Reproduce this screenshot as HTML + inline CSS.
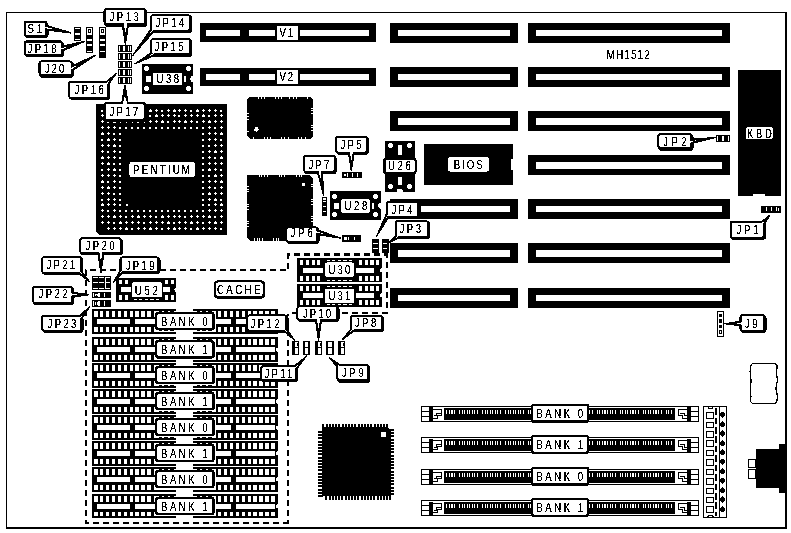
<!DOCTYPE html>
<html lang="en">
<head>
<meta charset="utf-8">
<title>MH1512 motherboard layout</title>
<style>
html,body{margin:0;padding:0;background:#fff;}
body{width:791px;height:533px;overflow:hidden;}
svg{display:block;}
svg text{font-family:"Liberation Sans",sans-serif;fill:#000;}
</style>
</head>
<body>
<svg width="791" height="533" viewBox="0 0 791 533" shape-rendering="crispEdges">
<defs>
<filter id="bw" x="0" y="0" width="791" height="533" filterUnits="userSpaceOnUse" color-interpolation-filters="sRGB">
<feColorMatrix type="matrix" values="0.33 0.34 0.33 0 0  0.33 0.34 0.33 0 0  0.33 0.34 0.33 0 0  0 0 0 1 0"/>
<feComponentTransfer><feFuncR type="discrete" tableValues="0 0 0 0 0 1 1 1"/><feFuncG type="discrete" tableValues="0 0 0 0 0 1 1 1"/><feFuncB type="discrete" tableValues="0 0 0 0 0 1 1 1"/></feComponentTransfer>
</filter>
</defs>
<g filter="url(#bw)">
<rect x="0" y="0" width="791" height="533" fill="#fff"/>
<rect x="6" y="12" width="781" height="1" fill="#000"/>
<rect x="6" y="12" width="1" height="517" fill="#000"/>
<rect x="785" y="12" width="2" height="517" fill="#000"/>
<rect x="6" y="527" width="781" height="2" fill="#000"/>
<rect x="528" y="22.9" width="201.7" height="19.8" fill="#000"/>
<rect x="535.8" y="29.8" width="186.3" height="6.3" fill="#fff"/>
<rect x="390" y="22.9" width="128" height="19.8" fill="#000"/>
<rect x="397.8" y="29.8" width="112.6" height="6.3" fill="#fff"/>
<rect x="528" y="67.1" width="201.7" height="19.8" fill="#000"/>
<rect x="535.8" y="74" width="186.3" height="6.3" fill="#fff"/>
<rect x="390" y="67.1" width="128" height="19.8" fill="#000"/>
<rect x="397.8" y="74" width="112.6" height="6.3" fill="#fff"/>
<rect x="528" y="111.3" width="201.7" height="19.8" fill="#000"/>
<rect x="535.8" y="118.2" width="186.3" height="6.3" fill="#fff"/>
<rect x="390" y="111.3" width="128" height="19.8" fill="#000"/>
<rect x="397.8" y="118.2" width="112.6" height="6.3" fill="#fff"/>
<rect x="528" y="155.3" width="201.7" height="19.8" fill="#000"/>
<rect x="535.8" y="162.2" width="186.3" height="6.3" fill="#fff"/>
<rect x="528" y="199.1" width="201.7" height="19.8" fill="#000"/>
<rect x="535.8" y="206" width="186.3" height="6.3" fill="#fff"/>
<rect x="390" y="199.1" width="128" height="19.8" fill="#000"/>
<rect x="397.8" y="206" width="112.6" height="6.3" fill="#fff"/>
<rect x="528" y="243.3" width="201.7" height="19.8" fill="#000"/>
<rect x="535.8" y="250.2" width="186.3" height="6.3" fill="#fff"/>
<rect x="390" y="243.3" width="128" height="19.8" fill="#000"/>
<rect x="397.8" y="250.2" width="112.6" height="6.3" fill="#fff"/>
<rect x="528" y="288.1" width="201.7" height="19.8" fill="#000"/>
<rect x="535.8" y="295" width="186.3" height="6.3" fill="#fff"/>
<rect x="390" y="288.1" width="128" height="19.8" fill="#000"/>
<rect x="397.8" y="295" width="112.6" height="6.3" fill="#fff"/>
<rect x="200" y="22.8" width="176" height="18.9" fill="#000"/>
<rect x="205.5" y="30" width="34.5" height="6.1" fill="#fff"/>
<rect x="248.8" y="30" width="26" height="6.1" fill="#fff"/>
<rect x="300.2" y="30" width="68.8" height="6.1" fill="#fff"/>
<rect x="276.8" y="25.8" width="21.5" height="14" rx="0.5" fill="#fff" shape-rendering="geometricPrecision"/>
<text transform="translate(279.5 36.8) scale(0.7 1)" font-size="13.7" textLength="19.43" lengthAdjust="spacing">V1</text>
<rect x="200" y="67.8" width="176" height="18.2" fill="#000"/>
<rect x="205.5" y="74.2" width="34.5" height="5.8" fill="#fff"/>
<rect x="248.8" y="74.2" width="26" height="5.8" fill="#fff"/>
<rect x="300.2" y="74.2" width="68.8" height="5.8" fill="#fff"/>
<rect x="276.8" y="70.3" width="21.5" height="13.9" rx="0.5" fill="#fff" shape-rendering="geometricPrecision"/>
<text transform="translate(279.5 80.9) scale(0.7 1)" font-size="13.7" textLength="19.43" lengthAdjust="spacing">V2</text>
<text transform="translate(606.6 58.8) scale(0.8 1)" font-size="12.5" textLength="54" lengthAdjust="spacing">MH1512</text>
<rect x="738.3" y="70" width="42.7" height="125.5" fill="#000"/>
<rect x="753" y="194.3" width="12" height="1.2" fill="#fff"/>
<rect x="745.7" y="127" width="27.4" height="12.3" rx="2" fill="#fff" shape-rendering="geometricPrecision"/>
<text transform="translate(747.3 137.8) scale(0.7 1)" font-size="12.6" textLength="35" lengthAdjust="spacing">KBD</text>
<rect x="424" y="143.8" width="89.4" height="40.8" fill="#000"/>
<rect x="511.2" y="158.9" width="2.2" height="11.5" fill="#fff"/>
<rect x="447.9" y="157.1" width="41.3" height="14.7" rx="2.5" fill="#fff" shape-rendering="geometricPrecision"/>
<text transform="translate(453.8 168.6) scale(0.7 1)" font-size="13.7" textLength="41.14" lengthAdjust="spacing">BIOS</text>
<rect x="385.1" y="141.2" width="30.1" height="50.4" fill="#000"/>
<circle cx="390.5" cy="145.5" r="2.5" fill="#fff" shape-rendering="geometricPrecision"/>
<circle cx="390.5" cy="186.5" r="2.5" fill="#fff" shape-rendering="geometricPrecision"/>
<circle cx="409.5" cy="145.5" r="2.5" fill="#fff" shape-rendering="geometricPrecision"/>
<circle cx="409.5" cy="186.5" r="2.5" fill="#fff" shape-rendering="geometricPrecision"/>
<rect x="397.5" y="145.3" width="4.9" height="9.5" fill="#fff"/>
<rect x="397.5" y="176.6" width="4.9" height="8.8" fill="#fff"/>
<path d="M396.6 192 a3.4 3.4 0 0 1 6.8 0z" fill="#fff" shape-rendering="geometricPrecision"/>
<rect x="383" y="157.7" width="33.9" height="16.6" rx="4" fill="#000" shape-rendering="geometricPrecision"/>
<rect x="385.6" y="159.4" width="29.2" height="13.1" rx="2.5" fill="#fff" shape-rendering="geometricPrecision"/>
<text transform="translate(388 170.4) scale(0.7 1)" font-size="13.7" textLength="32.71" lengthAdjust="spacing">U26</text>
<rect x="142.2" y="63.9" width="51" height="29.7" fill="#000"/>
<circle cx="146.5" cy="68.5" r="2.6" fill="#fff" shape-rendering="geometricPrecision"/>
<circle cx="146.5" cy="88.5" r="2.6" fill="#fff" shape-rendering="geometricPrecision"/>
<circle cx="188.5" cy="68.5" r="2.6" fill="#fff" shape-rendering="geometricPrecision"/>
<circle cx="188.5" cy="88.5" r="2.6" fill="#fff" shape-rendering="geometricPrecision"/>
<rect x="146" y="75.85" width="5.1" height="6.4" fill="#fff"/>
<rect x="184.3" y="75.85" width="1.8" height="6.4" fill="#fff"/>
<path d="M193.5 75.75 a3.3 3.3 0 0 0 0 6.6z" fill="#fff" shape-rendering="geometricPrecision"/>
<rect x="153" y="72.4" width="29.3" height="13.2" rx="2" fill="#fff" shape-rendering="geometricPrecision"/>
<text transform="translate(156.5 82.5) scale(0.7 1)" font-size="13.7" textLength="32.29" lengthAdjust="spacing">U38</text>
<rect x="330.2" y="191.2" width="50.8" height="28.5" fill="#000"/>
<circle cx="334.5" cy="196.5" r="2.6" fill="#fff" shape-rendering="geometricPrecision"/>
<circle cx="334.5" cy="214.5" r="2.6" fill="#fff" shape-rendering="geometricPrecision"/>
<circle cx="375.5" cy="196.5" r="2.6" fill="#fff" shape-rendering="geometricPrecision"/>
<circle cx="375.5" cy="214.5" r="2.6" fill="#fff" shape-rendering="geometricPrecision"/>
<rect x="334" y="202.55" width="5.1" height="6.4" fill="#fff"/>
<rect x="372.1" y="202.55" width="1.8" height="6.4" fill="#fff"/>
<path d="M381.3 202.45 a3.3 3.3 0 0 0 0 6.6z" fill="#fff" shape-rendering="geometricPrecision"/>
<rect x="340.8" y="198.9" width="29.6" height="13.8" rx="2" fill="#fff" shape-rendering="geometricPrecision"/>
<text transform="translate(344.4 209.8) scale(0.7 1)" font-size="13.7" textLength="32.86" lengthAdjust="spacing">U28</text>
<polygon points="250,96.7 310.1,96.7 313.1,99.7 313.1,136 310.1,139 250,139 247,136 247,99.7" fill="#000"/>
<rect x="258" y="96.7" width="1" height="2.2" fill="#fff"/>
<rect x="261.2" y="96.7" width="1" height="2.2" fill="#fff"/>
<rect x="264.3" y="96.7" width="1" height="2.2" fill="#fff"/>
<rect x="275.1" y="96.7" width="1" height="2.2" fill="#fff"/>
<rect x="278.2" y="96.7" width="1" height="2.2" fill="#fff"/>
<rect x="281.3" y="96.7" width="1" height="2.2" fill="#fff"/>
<rect x="289.3" y="96.7" width="1" height="2.2" fill="#fff"/>
<rect x="292.6" y="96.7" width="1" height="2.2" fill="#fff"/>
<rect x="295.7" y="96.7" width="1" height="2.2" fill="#fff"/>
<rect x="306.6" y="96.7" width="1" height="2.2" fill="#fff"/>
<rect x="253.4" y="136.8" width="1" height="2.2" fill="#fff"/>
<rect x="264.3" y="136.8" width="1" height="2.2" fill="#fff"/>
<rect x="267.3" y="136.8" width="1" height="2.2" fill="#fff"/>
<rect x="270.4" y="136.8" width="1" height="2.2" fill="#fff"/>
<rect x="281.3" y="136.8" width="1" height="2.2" fill="#fff"/>
<rect x="284.4" y="136.8" width="1" height="2.2" fill="#fff"/>
<rect x="287.5" y="136.8" width="1" height="2.2" fill="#fff"/>
<rect x="298.3" y="136.8" width="1" height="2.2" fill="#fff"/>
<rect x="301.4" y="136.8" width="1" height="2.2" fill="#fff"/>
<rect x="304.5" y="136.8" width="1" height="2.2" fill="#fff"/>
<rect x="247" y="113.2" width="2.2" height="1" fill="#fff"/>
<rect x="247" y="116.3" width="2.2" height="1" fill="#fff"/>
<rect x="247" y="119.4" width="2.2" height="1" fill="#fff"/>
<rect x="247" y="130.8" width="2.2" height="1" fill="#fff"/>
<rect x="310.9" y="107.5" width="2.2" height="1" fill="#fff"/>
<rect x="310.9" y="110.1" width="2.2" height="1" fill="#fff"/>
<rect x="310.9" y="113.2" width="2.2" height="1" fill="#fff"/>
<rect x="310.9" y="124.6" width="2.2" height="1" fill="#fff"/>
<rect x="310.9" y="127.2" width="2.2" height="1" fill="#fff"/>
<rect x="310.9" y="130.2" width="2.2" height="1" fill="#fff"/>
<circle cx="256.5" cy="129.5" r="2.4" fill="#fff" shape-rendering="geometricPrecision"/>
<polygon points="247.8,174.8 309.3,174.8 313.3,178.8 313.3,237.8 310.3,240.8 249.8,240.8 246.8,237.8 246.8,175.8" fill="#000"/>
<rect x="258.8" y="174.8" width="1" height="2.6" fill="#fff"/>
<rect x="261.4" y="174.8" width="1" height="2.6" fill="#fff"/>
<rect x="264" y="174.8" width="1" height="2.6" fill="#fff"/>
<rect x="266.5" y="174.8" width="1" height="2.6" fill="#fff"/>
<rect x="278.7" y="174.8" width="1" height="2.6" fill="#fff"/>
<rect x="281.3" y="174.8" width="1" height="2.6" fill="#fff"/>
<rect x="283.8" y="174.8" width="1" height="2.6" fill="#fff"/>
<rect x="296.3" y="174.8" width="1" height="2.6" fill="#fff"/>
<rect x="298.9" y="174.8" width="1" height="2.6" fill="#fff"/>
<rect x="301.4" y="174.8" width="1" height="2.6" fill="#fff"/>
<rect x="254.3" y="238.2" width="1" height="2.6" fill="#fff"/>
<rect x="256.8" y="238.2" width="1" height="2.6" fill="#fff"/>
<rect x="259.3" y="238.2" width="1" height="2.6" fill="#fff"/>
<rect x="261.8" y="238.2" width="1" height="2.6" fill="#fff"/>
<rect x="273" y="238.2" width="1" height="2.6" fill="#fff"/>
<rect x="275.6" y="238.2" width="1" height="2.6" fill="#fff"/>
<rect x="278.2" y="238.2" width="1" height="2.6" fill="#fff"/>
<rect x="246.8" y="186" width="2.6" height="1" fill="#fff"/>
<rect x="246.8" y="188.7" width="2.6" height="1" fill="#fff"/>
<rect x="246.8" y="191.3" width="2.6" height="1" fill="#fff"/>
<rect x="246.8" y="203.7" width="2.6" height="1" fill="#fff"/>
<rect x="246.8" y="206.3" width="2.6" height="1" fill="#fff"/>
<rect x="246.8" y="208.8" width="2.6" height="1" fill="#fff"/>
<rect x="246.8" y="220.6" width="2.6" height="1" fill="#fff"/>
<rect x="246.8" y="223.3" width="2.6" height="1" fill="#fff"/>
<rect x="246.8" y="225.8" width="2.6" height="1" fill="#fff"/>
<rect x="310.7" y="183.8" width="2.6" height="1" fill="#fff"/>
<rect x="310.7" y="186.3" width="2.6" height="1" fill="#fff"/>
<rect x="310.7" y="198.8" width="2.6" height="1" fill="#fff"/>
<rect x="310.7" y="201.3" width="2.6" height="1" fill="#fff"/>
<rect x="310.7" y="204" width="2.6" height="1" fill="#fff"/>
<rect x="310.7" y="215.7" width="2.6" height="1" fill="#fff"/>
<rect x="310.7" y="218.3" width="2.6" height="1" fill="#fff"/>
<rect x="310.7" y="220.9" width="2.6" height="1" fill="#fff"/>
<circle cx="303.5" cy="184.5" r="2" fill="#fff" shape-rendering="geometricPrecision"/>
<polygon points="323,427.2 388.1,427.2 391.1,430.2 391.1,494.2 389.6,495.7 323,495.7 321.5,494.2 321.5,428.7" fill="#000"/>
<rect x="322.3" y="423.8" width="2" height="4.4" fill="#000"/>
<rect x="325.3" y="494.7" width="2" height="4.8" fill="#000"/>
<rect x="318.1" y="431" width="4.4" height="2" fill="#000"/>
<rect x="390.1" y="428.9" width="4" height="2" fill="#000"/>
<rect x="325.5" y="423.8" width="2" height="4.4" fill="#000"/>
<rect x="328.5" y="494.7" width="2" height="4.8" fill="#000"/>
<rect x="318.1" y="434.2" width="4.4" height="2" fill="#000"/>
<rect x="390.1" y="432.1" width="4" height="2" fill="#000"/>
<rect x="328.7" y="423.8" width="2" height="4.4" fill="#000"/>
<rect x="331.7" y="494.7" width="2" height="4.8" fill="#000"/>
<rect x="318.1" y="437.4" width="4.4" height="2" fill="#000"/>
<rect x="390.1" y="435.3" width="4" height="2" fill="#000"/>
<rect x="331.9" y="423.8" width="2" height="4.4" fill="#000"/>
<rect x="334.9" y="494.7" width="2" height="4.8" fill="#000"/>
<rect x="318.1" y="440.6" width="4.4" height="2" fill="#000"/>
<rect x="390.1" y="438.5" width="4" height="2" fill="#000"/>
<rect x="335.1" y="423.8" width="2" height="4.4" fill="#000"/>
<rect x="338.1" y="494.7" width="2" height="4.8" fill="#000"/>
<rect x="318.1" y="443.8" width="4.4" height="2" fill="#000"/>
<rect x="390.1" y="441.7" width="4" height="2" fill="#000"/>
<rect x="338.3" y="423.8" width="2" height="4.4" fill="#000"/>
<rect x="341.3" y="494.7" width="2" height="4.8" fill="#000"/>
<rect x="318.1" y="447" width="4.4" height="2" fill="#000"/>
<rect x="390.1" y="444.9" width="4" height="2" fill="#000"/>
<rect x="341.5" y="423.8" width="2" height="4.4" fill="#000"/>
<rect x="344.5" y="494.7" width="2" height="4.8" fill="#000"/>
<rect x="318.1" y="450.2" width="4.4" height="2" fill="#000"/>
<rect x="390.1" y="448.1" width="4" height="2" fill="#000"/>
<rect x="344.7" y="423.8" width="2" height="4.4" fill="#000"/>
<rect x="347.7" y="494.7" width="2" height="4.8" fill="#000"/>
<rect x="318.1" y="453.4" width="4.4" height="2" fill="#000"/>
<rect x="390.1" y="451.3" width="4" height="2" fill="#000"/>
<rect x="347.9" y="423.8" width="2" height="4.4" fill="#000"/>
<rect x="350.9" y="494.7" width="2" height="4.8" fill="#000"/>
<rect x="318.1" y="456.6" width="4.4" height="2" fill="#000"/>
<rect x="390.1" y="454.5" width="4" height="2" fill="#000"/>
<rect x="351.1" y="423.8" width="2" height="4.4" fill="#000"/>
<rect x="354.1" y="494.7" width="2" height="4.8" fill="#000"/>
<rect x="318.1" y="459.8" width="4.4" height="2" fill="#000"/>
<rect x="390.1" y="457.7" width="4" height="2" fill="#000"/>
<rect x="354.3" y="423.8" width="2" height="4.4" fill="#000"/>
<rect x="357.3" y="494.7" width="2" height="4.8" fill="#000"/>
<rect x="318.1" y="463" width="4.4" height="2" fill="#000"/>
<rect x="390.1" y="460.9" width="4" height="2" fill="#000"/>
<rect x="357.5" y="423.8" width="2" height="4.4" fill="#000"/>
<rect x="360.5" y="494.7" width="2" height="4.8" fill="#000"/>
<rect x="318.1" y="466.2" width="4.4" height="2" fill="#000"/>
<rect x="390.1" y="464.1" width="4" height="2" fill="#000"/>
<rect x="360.7" y="423.8" width="2" height="4.4" fill="#000"/>
<rect x="363.7" y="494.7" width="2" height="4.8" fill="#000"/>
<rect x="318.1" y="469.4" width="4.4" height="2" fill="#000"/>
<rect x="390.1" y="467.3" width="4" height="2" fill="#000"/>
<rect x="363.9" y="423.8" width="2" height="4.4" fill="#000"/>
<rect x="366.9" y="494.7" width="2" height="4.8" fill="#000"/>
<rect x="318.1" y="472.6" width="4.4" height="2" fill="#000"/>
<rect x="390.1" y="470.5" width="4" height="2" fill="#000"/>
<rect x="367.1" y="423.8" width="2" height="4.4" fill="#000"/>
<rect x="370.1" y="494.7" width="2" height="4.8" fill="#000"/>
<rect x="318.1" y="475.8" width="4.4" height="2" fill="#000"/>
<rect x="390.1" y="473.7" width="4" height="2" fill="#000"/>
<rect x="370.3" y="423.8" width="2" height="4.4" fill="#000"/>
<rect x="373.3" y="494.7" width="2" height="4.8" fill="#000"/>
<rect x="318.1" y="479" width="4.4" height="2" fill="#000"/>
<rect x="390.1" y="476.9" width="4" height="2" fill="#000"/>
<rect x="373.5" y="423.8" width="2" height="4.4" fill="#000"/>
<rect x="376.5" y="494.7" width="2" height="4.8" fill="#000"/>
<rect x="318.1" y="482.2" width="4.4" height="2" fill="#000"/>
<rect x="390.1" y="480.1" width="4" height="2" fill="#000"/>
<rect x="376.7" y="423.8" width="2" height="4.4" fill="#000"/>
<rect x="379.7" y="494.7" width="2" height="4.8" fill="#000"/>
<rect x="318.1" y="485.4" width="4.4" height="2" fill="#000"/>
<rect x="390.1" y="483.3" width="4" height="2" fill="#000"/>
<rect x="379.9" y="423.8" width="2" height="4.4" fill="#000"/>
<rect x="382.9" y="494.7" width="2" height="4.8" fill="#000"/>
<rect x="318.1" y="488.6" width="4.4" height="2" fill="#000"/>
<rect x="390.1" y="486.5" width="4" height="2" fill="#000"/>
<rect x="383.1" y="423.8" width="2" height="4.4" fill="#000"/>
<rect x="386.1" y="494.7" width="2" height="4.8" fill="#000"/>
<rect x="318.1" y="491.8" width="4.4" height="2" fill="#000"/>
<rect x="390.1" y="489.7" width="4" height="2" fill="#000"/>
<rect x="386.3" y="423.8" width="2" height="4.4" fill="#000"/>
<rect x="389.3" y="494.7" width="2" height="4.8" fill="#000"/>
<rect x="318.1" y="495" width="4.4" height="2" fill="#000"/>
<rect x="390.1" y="492.9" width="4" height="2" fill="#000"/>
<circle cx="383.5" cy="434.5" r="2.9" fill="#fff" shape-rendering="geometricPrecision"/>
<polygon points="96.3,103.8 227.1,103.8 227.1,234.6 99.3,234.6 96.3,231.6" fill="#000"/>
<rect x="101" y="110" width="2" height="2" fill="#fff"/>
<rect x="101" y="115" width="3" height="1" fill="#fff"/>
<rect x="102" y="114" width="1" height="3" fill="#fff"/>
<rect x="101" y="121" width="3" height="1" fill="#fff"/>
<rect x="102" y="120" width="1" height="3" fill="#fff"/>
<rect x="101" y="127" width="3" height="1" fill="#fff"/>
<rect x="102" y="126" width="1" height="3" fill="#fff"/>
<rect x="101" y="133" width="3" height="2" fill="#fff"/>
<rect x="102" y="132" width="1" height="1" fill="#fff"/>
<rect x="101" y="139" width="2" height="2" fill="#fff"/>
<rect x="101" y="145" width="3" height="1" fill="#fff"/>
<rect x="102" y="144" width="1" height="3" fill="#fff"/>
<rect x="101" y="151" width="3" height="1" fill="#fff"/>
<rect x="102" y="150" width="1" height="3" fill="#fff"/>
<rect x="101" y="157" width="3" height="2" fill="#fff"/>
<rect x="102" y="156" width="1" height="1" fill="#fff"/>
<rect x="101" y="163" width="3" height="1" fill="#fff"/>
<rect x="102" y="162" width="1" height="3" fill="#fff"/>
<rect x="101" y="169" width="2" height="2" fill="#fff"/>
<rect x="101" y="175" width="3" height="1" fill="#fff"/>
<rect x="102" y="174" width="1" height="3" fill="#fff"/>
<rect x="101" y="181" width="3" height="2" fill="#fff"/>
<rect x="102" y="180" width="1" height="1" fill="#fff"/>
<rect x="101" y="187" width="3" height="1" fill="#fff"/>
<rect x="102" y="186" width="1" height="3" fill="#fff"/>
<rect x="101" y="193" width="3" height="1" fill="#fff"/>
<rect x="102" y="192" width="1" height="3" fill="#fff"/>
<rect x="101" y="199" width="2" height="2" fill="#fff"/>
<rect x="101" y="204" width="3" height="2" fill="#fff"/>
<rect x="102" y="203" width="1" height="1" fill="#fff"/>
<rect x="101" y="210" width="3" height="1" fill="#fff"/>
<rect x="102" y="209" width="1" height="3" fill="#fff"/>
<rect x="101" y="216" width="3" height="1" fill="#fff"/>
<rect x="102" y="215" width="1" height="3" fill="#fff"/>
<rect x="101" y="222" width="3" height="1" fill="#fff"/>
<rect x="102" y="221" width="1" height="3" fill="#fff"/>
<rect x="107" y="110" width="3" height="1" fill="#fff"/>
<rect x="108" y="109" width="1" height="3" fill="#fff"/>
<rect x="107" y="115" width="3" height="2" fill="#fff"/>
<rect x="108" y="114" width="1" height="1" fill="#fff"/>
<rect x="107" y="121" width="2" height="2" fill="#fff"/>
<rect x="107" y="127" width="3" height="1" fill="#fff"/>
<rect x="108" y="126" width="1" height="3" fill="#fff"/>
<rect x="107" y="133" width="3" height="1" fill="#fff"/>
<rect x="108" y="132" width="1" height="3" fill="#fff"/>
<rect x="107" y="139" width="3" height="2" fill="#fff"/>
<rect x="108" y="138" width="1" height="1" fill="#fff"/>
<rect x="107" y="145" width="3" height="1" fill="#fff"/>
<rect x="108" y="144" width="1" height="3" fill="#fff"/>
<rect x="107" y="151" width="2" height="2" fill="#fff"/>
<rect x="107" y="157" width="3" height="1" fill="#fff"/>
<rect x="108" y="156" width="1" height="3" fill="#fff"/>
<rect x="107" y="163" width="3" height="2" fill="#fff"/>
<rect x="108" y="162" width="1" height="1" fill="#fff"/>
<rect x="107" y="169" width="3" height="1" fill="#fff"/>
<rect x="108" y="168" width="1" height="3" fill="#fff"/>
<rect x="107" y="175" width="3" height="1" fill="#fff"/>
<rect x="108" y="174" width="1" height="3" fill="#fff"/>
<rect x="107" y="181" width="2" height="2" fill="#fff"/>
<rect x="107" y="187" width="3" height="2" fill="#fff"/>
<rect x="108" y="186" width="1" height="1" fill="#fff"/>
<rect x="107" y="193" width="3" height="1" fill="#fff"/>
<rect x="108" y="192" width="1" height="3" fill="#fff"/>
<rect x="107" y="199" width="3" height="1" fill="#fff"/>
<rect x="108" y="198" width="1" height="3" fill="#fff"/>
<rect x="107" y="204" width="3" height="1" fill="#fff"/>
<rect x="108" y="203" width="1" height="3" fill="#fff"/>
<rect x="107" y="210" width="2" height="2" fill="#fff"/>
<rect x="107" y="216" width="3" height="1" fill="#fff"/>
<rect x="108" y="215" width="1" height="3" fill="#fff"/>
<rect x="107" y="222" width="3" height="1" fill="#fff"/>
<rect x="108" y="221" width="1" height="3" fill="#fff"/>
<rect x="107" y="228" width="3" height="1" fill="#fff"/>
<rect x="108" y="227" width="1" height="3" fill="#fff"/>
<rect x="113" y="110" width="3" height="1" fill="#fff"/>
<rect x="114" y="109" width="1" height="3" fill="#fff"/>
<rect x="113" y="115" width="3" height="1" fill="#fff"/>
<rect x="114" y="114" width="1" height="3" fill="#fff"/>
<rect x="113" y="121" width="3" height="2" fill="#fff"/>
<rect x="114" y="120" width="1" height="1" fill="#fff"/>
<rect x="113" y="127" width="3" height="1" fill="#fff"/>
<rect x="114" y="126" width="1" height="3" fill="#fff"/>
<rect x="113" y="133" width="2" height="2" fill="#fff"/>
<rect x="113" y="139" width="3" height="1" fill="#fff"/>
<rect x="114" y="138" width="1" height="3" fill="#fff"/>
<rect x="113" y="145" width="3" height="2" fill="#fff"/>
<rect x="114" y="144" width="1" height="1" fill="#fff"/>
<rect x="113" y="151" width="3" height="1" fill="#fff"/>
<rect x="114" y="150" width="1" height="3" fill="#fff"/>
<rect x="113" y="157" width="3" height="1" fill="#fff"/>
<rect x="114" y="156" width="1" height="3" fill="#fff"/>
<rect x="113" y="163" width="2" height="2" fill="#fff"/>
<rect x="113" y="169" width="3" height="2" fill="#fff"/>
<rect x="114" y="168" width="1" height="1" fill="#fff"/>
<rect x="113" y="175" width="3" height="1" fill="#fff"/>
<rect x="114" y="174" width="1" height="3" fill="#fff"/>
<rect x="113" y="181" width="3" height="1" fill="#fff"/>
<rect x="114" y="180" width="1" height="3" fill="#fff"/>
<rect x="113" y="187" width="3" height="1" fill="#fff"/>
<rect x="114" y="186" width="1" height="3" fill="#fff"/>
<rect x="113" y="193" width="2" height="2" fill="#fff"/>
<rect x="113" y="199" width="3" height="1" fill="#fff"/>
<rect x="114" y="198" width="1" height="3" fill="#fff"/>
<rect x="113" y="204" width="3" height="1" fill="#fff"/>
<rect x="114" y="203" width="1" height="3" fill="#fff"/>
<rect x="113" y="210" width="3" height="1" fill="#fff"/>
<rect x="114" y="209" width="1" height="3" fill="#fff"/>
<rect x="113" y="216" width="3" height="2" fill="#fff"/>
<rect x="114" y="215" width="1" height="1" fill="#fff"/>
<rect x="113" y="222" width="2" height="2" fill="#fff"/>
<rect x="113" y="228" width="3" height="1" fill="#fff"/>
<rect x="114" y="227" width="1" height="3" fill="#fff"/>
<rect x="119" y="110" width="3" height="1" fill="#fff"/>
<rect x="120" y="109" width="1" height="3" fill="#fff"/>
<rect x="119" y="115" width="2" height="2" fill="#fff"/>
<rect x="119" y="121" width="3" height="1" fill="#fff"/>
<rect x="120" y="120" width="1" height="3" fill="#fff"/>
<rect x="119" y="127" width="2" height="2" fill="#fff"/>
<rect x="119" y="133" width="2" height="2" fill="#fff"/>
<rect x="119" y="139" width="2" height="2" fill="#fff"/>
<rect x="119" y="145" width="2" height="2" fill="#fff"/>
<rect x="119" y="151" width="2" height="2" fill="#fff"/>
<rect x="119" y="157" width="2" height="2" fill="#fff"/>
<rect x="119" y="163" width="2" height="2" fill="#fff"/>
<rect x="119" y="169" width="2" height="2" fill="#fff"/>
<rect x="119" y="175" width="2" height="2" fill="#fff"/>
<rect x="119" y="181" width="2" height="2" fill="#fff"/>
<rect x="119" y="187" width="2" height="2" fill="#fff"/>
<rect x="119" y="193" width="2" height="2" fill="#fff"/>
<rect x="119" y="199" width="2" height="2" fill="#fff"/>
<rect x="119" y="204" width="2" height="2" fill="#fff"/>
<rect x="119" y="210" width="2" height="2" fill="#fff"/>
<rect x="119" y="216" width="3" height="1" fill="#fff"/>
<rect x="120" y="215" width="1" height="3" fill="#fff"/>
<rect x="119" y="222" width="3" height="2" fill="#fff"/>
<rect x="120" y="221" width="1" height="1" fill="#fff"/>
<rect x="119" y="228" width="3" height="1" fill="#fff"/>
<rect x="120" y="227" width="1" height="3" fill="#fff"/>
<rect x="125" y="110" width="3" height="2" fill="#fff"/>
<rect x="126" y="109" width="1" height="1" fill="#fff"/>
<rect x="125" y="115" width="3" height="1" fill="#fff"/>
<rect x="126" y="114" width="1" height="3" fill="#fff"/>
<rect x="125" y="121" width="3" height="1" fill="#fff"/>
<rect x="126" y="120" width="1" height="3" fill="#fff"/>
<rect x="125" y="127" width="2" height="2" fill="#fff"/>
<rect x="125" y="210" width="2" height="2" fill="#fff"/>
<rect x="125" y="216" width="2" height="2" fill="#fff"/>
<rect x="125" y="222" width="3" height="1" fill="#fff"/>
<rect x="126" y="221" width="1" height="3" fill="#fff"/>
<rect x="125" y="228" width="3" height="2" fill="#fff"/>
<rect x="126" y="227" width="1" height="1" fill="#fff"/>
<rect x="131" y="110" width="2" height="2" fill="#fff"/>
<rect x="131" y="115" width="3" height="2" fill="#fff"/>
<rect x="132" y="114" width="1" height="1" fill="#fff"/>
<rect x="131" y="121" width="3" height="1" fill="#fff"/>
<rect x="132" y="120" width="1" height="3" fill="#fff"/>
<rect x="131" y="127" width="2" height="2" fill="#fff"/>
<rect x="131" y="210" width="2" height="2" fill="#fff"/>
<rect x="131" y="216" width="3" height="1" fill="#fff"/>
<rect x="132" y="215" width="1" height="3" fill="#fff"/>
<rect x="131" y="222" width="3" height="1" fill="#fff"/>
<rect x="132" y="221" width="1" height="3" fill="#fff"/>
<rect x="131" y="228" width="2" height="2" fill="#fff"/>
<rect x="137" y="110" width="3" height="1" fill="#fff"/>
<rect x="138" y="109" width="1" height="3" fill="#fff"/>
<rect x="137" y="115" width="3" height="1" fill="#fff"/>
<rect x="138" y="114" width="1" height="3" fill="#fff"/>
<rect x="137" y="121" width="2" height="2" fill="#fff"/>
<rect x="137" y="127" width="2" height="2" fill="#fff"/>
<rect x="137" y="210" width="2" height="2" fill="#fff"/>
<rect x="137" y="216" width="3" height="2" fill="#fff"/>
<rect x="138" y="215" width="1" height="1" fill="#fff"/>
<rect x="137" y="222" width="3" height="1" fill="#fff"/>
<rect x="138" y="221" width="1" height="3" fill="#fff"/>
<rect x="137" y="228" width="3" height="1" fill="#fff"/>
<rect x="138" y="227" width="1" height="3" fill="#fff"/>
<rect x="143" y="110" width="3" height="1" fill="#fff"/>
<rect x="144" y="109" width="1" height="3" fill="#fff"/>
<rect x="143" y="115" width="3" height="1" fill="#fff"/>
<rect x="144" y="114" width="1" height="3" fill="#fff"/>
<rect x="143" y="121" width="3" height="1" fill="#fff"/>
<rect x="144" y="120" width="1" height="3" fill="#fff"/>
<rect x="143" y="127" width="2" height="2" fill="#fff"/>
<rect x="143" y="210" width="2" height="2" fill="#fff"/>
<rect x="143" y="216" width="3" height="1" fill="#fff"/>
<rect x="144" y="215" width="1" height="3" fill="#fff"/>
<rect x="143" y="222" width="2" height="2" fill="#fff"/>
<rect x="143" y="228" width="3" height="1" fill="#fff"/>
<rect x="144" y="227" width="1" height="3" fill="#fff"/>
<rect x="149" y="110" width="3" height="2" fill="#fff"/>
<rect x="150" y="109" width="1" height="1" fill="#fff"/>
<rect x="149" y="115" width="2" height="2" fill="#fff"/>
<rect x="149" y="121" width="3" height="1" fill="#fff"/>
<rect x="150" y="120" width="1" height="3" fill="#fff"/>
<rect x="149" y="127" width="2" height="2" fill="#fff"/>
<rect x="149" y="210" width="2" height="2" fill="#fff"/>
<rect x="149" y="216" width="3" height="1" fill="#fff"/>
<rect x="150" y="215" width="1" height="3" fill="#fff"/>
<rect x="149" y="222" width="3" height="1" fill="#fff"/>
<rect x="150" y="221" width="1" height="3" fill="#fff"/>
<rect x="149" y="228" width="3" height="2" fill="#fff"/>
<rect x="150" y="227" width="1" height="1" fill="#fff"/>
<rect x="155" y="110" width="3" height="1" fill="#fff"/>
<rect x="156" y="109" width="1" height="3" fill="#fff"/>
<rect x="155" y="115" width="3" height="2" fill="#fff"/>
<rect x="156" y="114" width="1" height="1" fill="#fff"/>
<rect x="155" y="121" width="3" height="1" fill="#fff"/>
<rect x="156" y="120" width="1" height="3" fill="#fff"/>
<rect x="155" y="127" width="2" height="2" fill="#fff"/>
<rect x="155" y="210" width="2" height="2" fill="#fff"/>
<rect x="155" y="216" width="2" height="2" fill="#fff"/>
<rect x="155" y="222" width="3" height="1" fill="#fff"/>
<rect x="156" y="221" width="1" height="3" fill="#fff"/>
<rect x="155" y="228" width="3" height="1" fill="#fff"/>
<rect x="156" y="227" width="1" height="3" fill="#fff"/>
<rect x="161" y="110" width="2" height="2" fill="#fff"/>
<rect x="161" y="115" width="3" height="1" fill="#fff"/>
<rect x="162" y="114" width="1" height="3" fill="#fff"/>
<rect x="161" y="121" width="3" height="2" fill="#fff"/>
<rect x="162" y="120" width="1" height="1" fill="#fff"/>
<rect x="161" y="127" width="2" height="2" fill="#fff"/>
<rect x="161" y="210" width="2" height="2" fill="#fff"/>
<rect x="161" y="216" width="3" height="2" fill="#fff"/>
<rect x="162" y="215" width="1" height="1" fill="#fff"/>
<rect x="161" y="222" width="3" height="1" fill="#fff"/>
<rect x="162" y="221" width="1" height="3" fill="#fff"/>
<rect x="161" y="228" width="2" height="2" fill="#fff"/>
<rect x="167" y="110" width="3" height="1" fill="#fff"/>
<rect x="168" y="109" width="1" height="3" fill="#fff"/>
<rect x="167" y="115" width="3" height="1" fill="#fff"/>
<rect x="168" y="114" width="1" height="3" fill="#fff"/>
<rect x="167" y="121" width="2" height="2" fill="#fff"/>
<rect x="167" y="127" width="2" height="2" fill="#fff"/>
<rect x="167" y="210" width="2" height="2" fill="#fff"/>
<rect x="167" y="216" width="3" height="1" fill="#fff"/>
<rect x="168" y="215" width="1" height="3" fill="#fff"/>
<rect x="167" y="222" width="3" height="2" fill="#fff"/>
<rect x="168" y="221" width="1" height="1" fill="#fff"/>
<rect x="167" y="228" width="3" height="1" fill="#fff"/>
<rect x="168" y="227" width="1" height="3" fill="#fff"/>
<rect x="173" y="110" width="3" height="2" fill="#fff"/>
<rect x="174" y="109" width="1" height="1" fill="#fff"/>
<rect x="173" y="115" width="3" height="1" fill="#fff"/>
<rect x="174" y="114" width="1" height="3" fill="#fff"/>
<rect x="173" y="121" width="3" height="1" fill="#fff"/>
<rect x="174" y="120" width="1" height="3" fill="#fff"/>
<rect x="173" y="127" width="2" height="2" fill="#fff"/>
<rect x="173" y="210" width="2" height="2" fill="#fff"/>
<rect x="173" y="216" width="3" height="1" fill="#fff"/>
<rect x="174" y="215" width="1" height="3" fill="#fff"/>
<rect x="173" y="222" width="2" height="2" fill="#fff"/>
<rect x="173" y="228" width="3" height="2" fill="#fff"/>
<rect x="174" y="227" width="1" height="1" fill="#fff"/>
<rect x="178" y="110" width="3" height="1" fill="#fff"/>
<rect x="179" y="109" width="1" height="3" fill="#fff"/>
<rect x="178" y="115" width="2" height="2" fill="#fff"/>
<rect x="178" y="121" width="3" height="1" fill="#fff"/>
<rect x="179" y="120" width="1" height="3" fill="#fff"/>
<rect x="178" y="127" width="2" height="2" fill="#fff"/>
<rect x="178" y="210" width="2" height="2" fill="#fff"/>
<rect x="178" y="216" width="3" height="1" fill="#fff"/>
<rect x="179" y="215" width="1" height="3" fill="#fff"/>
<rect x="178" y="222" width="3" height="1" fill="#fff"/>
<rect x="179" y="221" width="1" height="3" fill="#fff"/>
<rect x="178" y="228" width="3" height="1" fill="#fff"/>
<rect x="179" y="227" width="1" height="3" fill="#fff"/>
<rect x="184" y="110" width="3" height="1" fill="#fff"/>
<rect x="185" y="109" width="1" height="3" fill="#fff"/>
<rect x="184" y="115" width="3" height="1" fill="#fff"/>
<rect x="185" y="114" width="1" height="3" fill="#fff"/>
<rect x="184" y="121" width="3" height="2" fill="#fff"/>
<rect x="185" y="120" width="1" height="1" fill="#fff"/>
<rect x="184" y="127" width="2" height="2" fill="#fff"/>
<rect x="184" y="210" width="2" height="2" fill="#fff"/>
<rect x="184" y="216" width="2" height="2" fill="#fff"/>
<rect x="184" y="222" width="3" height="1" fill="#fff"/>
<rect x="185" y="221" width="1" height="3" fill="#fff"/>
<rect x="184" y="228" width="3" height="1" fill="#fff"/>
<rect x="185" y="227" width="1" height="3" fill="#fff"/>
<rect x="190" y="110" width="2" height="2" fill="#fff"/>
<rect x="190" y="115" width="3" height="1" fill="#fff"/>
<rect x="191" y="114" width="1" height="3" fill="#fff"/>
<rect x="190" y="121" width="3" height="1" fill="#fff"/>
<rect x="191" y="120" width="1" height="3" fill="#fff"/>
<rect x="190" y="127" width="2" height="2" fill="#fff"/>
<rect x="190" y="210" width="2" height="2" fill="#fff"/>
<rect x="190" y="216" width="3" height="1" fill="#fff"/>
<rect x="191" y="215" width="1" height="3" fill="#fff"/>
<rect x="190" y="222" width="3" height="2" fill="#fff"/>
<rect x="191" y="221" width="1" height="1" fill="#fff"/>
<rect x="190" y="228" width="2" height="2" fill="#fff"/>
<rect x="196" y="110" width="3" height="2" fill="#fff"/>
<rect x="197" y="109" width="1" height="1" fill="#fff"/>
<rect x="196" y="115" width="3" height="1" fill="#fff"/>
<rect x="197" y="114" width="1" height="3" fill="#fff"/>
<rect x="196" y="121" width="2" height="2" fill="#fff"/>
<rect x="196" y="127" width="2" height="2" fill="#fff"/>
<rect x="196" y="210" width="2" height="2" fill="#fff"/>
<rect x="196" y="216" width="3" height="1" fill="#fff"/>
<rect x="197" y="215" width="1" height="3" fill="#fff"/>
<rect x="196" y="222" width="3" height="1" fill="#fff"/>
<rect x="197" y="221" width="1" height="3" fill="#fff"/>
<rect x="196" y="228" width="3" height="2" fill="#fff"/>
<rect x="197" y="227" width="1" height="1" fill="#fff"/>
<rect x="202" y="110" width="3" height="1" fill="#fff"/>
<rect x="203" y="109" width="1" height="3" fill="#fff"/>
<rect x="202" y="115" width="3" height="2" fill="#fff"/>
<rect x="203" y="114" width="1" height="1" fill="#fff"/>
<rect x="202" y="121" width="3" height="1" fill="#fff"/>
<rect x="203" y="120" width="1" height="3" fill="#fff"/>
<rect x="202" y="127" width="2" height="2" fill="#fff"/>
<rect x="202" y="133" width="2" height="2" fill="#fff"/>
<rect x="202" y="139" width="2" height="2" fill="#fff"/>
<rect x="202" y="145" width="2" height="2" fill="#fff"/>
<rect x="202" y="151" width="2" height="2" fill="#fff"/>
<rect x="202" y="157" width="2" height="2" fill="#fff"/>
<rect x="202" y="163" width="2" height="2" fill="#fff"/>
<rect x="202" y="169" width="2" height="2" fill="#fff"/>
<rect x="202" y="175" width="2" height="2" fill="#fff"/>
<rect x="202" y="181" width="2" height="2" fill="#fff"/>
<rect x="202" y="187" width="2" height="2" fill="#fff"/>
<rect x="202" y="193" width="2" height="2" fill="#fff"/>
<rect x="202" y="199" width="2" height="2" fill="#fff"/>
<rect x="202" y="204" width="2" height="2" fill="#fff"/>
<rect x="202" y="210" width="2" height="2" fill="#fff"/>
<rect x="202" y="216" width="3" height="1" fill="#fff"/>
<rect x="203" y="215" width="1" height="3" fill="#fff"/>
<rect x="202" y="222" width="2" height="2" fill="#fff"/>
<rect x="202" y="228" width="3" height="1" fill="#fff"/>
<rect x="203" y="227" width="1" height="3" fill="#fff"/>
<rect x="208" y="110" width="3" height="1" fill="#fff"/>
<rect x="209" y="109" width="1" height="3" fill="#fff"/>
<rect x="208" y="115" width="2" height="2" fill="#fff"/>
<rect x="208" y="121" width="3" height="2" fill="#fff"/>
<rect x="209" y="120" width="1" height="1" fill="#fff"/>
<rect x="208" y="127" width="3" height="1" fill="#fff"/>
<rect x="209" y="126" width="1" height="3" fill="#fff"/>
<rect x="208" y="133" width="3" height="1" fill="#fff"/>
<rect x="209" y="132" width="1" height="3" fill="#fff"/>
<rect x="208" y="139" width="3" height="1" fill="#fff"/>
<rect x="209" y="138" width="1" height="3" fill="#fff"/>
<rect x="208" y="145" width="2" height="2" fill="#fff"/>
<rect x="208" y="151" width="3" height="1" fill="#fff"/>
<rect x="209" y="150" width="1" height="3" fill="#fff"/>
<rect x="208" y="157" width="3" height="1" fill="#fff"/>
<rect x="209" y="156" width="1" height="3" fill="#fff"/>
<rect x="208" y="163" width="3" height="1" fill="#fff"/>
<rect x="209" y="162" width="1" height="3" fill="#fff"/>
<rect x="208" y="169" width="3" height="2" fill="#fff"/>
<rect x="209" y="168" width="1" height="1" fill="#fff"/>
<rect x="208" y="175" width="2" height="2" fill="#fff"/>
<rect x="208" y="181" width="3" height="1" fill="#fff"/>
<rect x="209" y="180" width="1" height="3" fill="#fff"/>
<rect x="208" y="187" width="3" height="1" fill="#fff"/>
<rect x="209" y="186" width="1" height="3" fill="#fff"/>
<rect x="208" y="193" width="3" height="2" fill="#fff"/>
<rect x="209" y="192" width="1" height="1" fill="#fff"/>
<rect x="208" y="199" width="3" height="1" fill="#fff"/>
<rect x="209" y="198" width="1" height="3" fill="#fff"/>
<rect x="208" y="204" width="2" height="2" fill="#fff"/>
<rect x="208" y="210" width="3" height="1" fill="#fff"/>
<rect x="209" y="209" width="1" height="3" fill="#fff"/>
<rect x="208" y="216" width="3" height="2" fill="#fff"/>
<rect x="209" y="215" width="1" height="1" fill="#fff"/>
<rect x="208" y="222" width="3" height="1" fill="#fff"/>
<rect x="209" y="221" width="1" height="3" fill="#fff"/>
<rect x="208" y="228" width="3" height="1" fill="#fff"/>
<rect x="209" y="227" width="1" height="3" fill="#fff"/>
<rect x="214" y="110" width="3" height="1" fill="#fff"/>
<rect x="215" y="109" width="1" height="3" fill="#fff"/>
<rect x="214" y="115" width="3" height="1" fill="#fff"/>
<rect x="215" y="114" width="1" height="3" fill="#fff"/>
<rect x="214" y="121" width="3" height="1" fill="#fff"/>
<rect x="215" y="120" width="1" height="3" fill="#fff"/>
<rect x="214" y="127" width="2" height="2" fill="#fff"/>
<rect x="214" y="133" width="3" height="1" fill="#fff"/>
<rect x="215" y="132" width="1" height="3" fill="#fff"/>
<rect x="214" y="139" width="3" height="1" fill="#fff"/>
<rect x="215" y="138" width="1" height="3" fill="#fff"/>
<rect x="214" y="145" width="3" height="1" fill="#fff"/>
<rect x="215" y="144" width="1" height="3" fill="#fff"/>
<rect x="214" y="151" width="3" height="2" fill="#fff"/>
<rect x="215" y="150" width="1" height="1" fill="#fff"/>
<rect x="214" y="157" width="2" height="2" fill="#fff"/>
<rect x="214" y="163" width="3" height="1" fill="#fff"/>
<rect x="215" y="162" width="1" height="3" fill="#fff"/>
<rect x="214" y="169" width="3" height="1" fill="#fff"/>
<rect x="215" y="168" width="1" height="3" fill="#fff"/>
<rect x="214" y="175" width="3" height="2" fill="#fff"/>
<rect x="215" y="174" width="1" height="1" fill="#fff"/>
<rect x="214" y="181" width="3" height="1" fill="#fff"/>
<rect x="215" y="180" width="1" height="3" fill="#fff"/>
<rect x="214" y="187" width="2" height="2" fill="#fff"/>
<rect x="214" y="193" width="3" height="1" fill="#fff"/>
<rect x="215" y="192" width="1" height="3" fill="#fff"/>
<rect x="214" y="199" width="3" height="2" fill="#fff"/>
<rect x="215" y="198" width="1" height="1" fill="#fff"/>
<rect x="214" y="204" width="3" height="1" fill="#fff"/>
<rect x="215" y="203" width="1" height="3" fill="#fff"/>
<rect x="214" y="210" width="3" height="1" fill="#fff"/>
<rect x="215" y="209" width="1" height="3" fill="#fff"/>
<rect x="214" y="216" width="2" height="2" fill="#fff"/>
<rect x="214" y="222" width="3" height="2" fill="#fff"/>
<rect x="215" y="221" width="1" height="1" fill="#fff"/>
<rect x="214" y="228" width="3" height="1" fill="#fff"/>
<rect x="215" y="227" width="1" height="3" fill="#fff"/>
<rect x="220" y="110" width="2" height="2" fill="#fff"/>
<rect x="220" y="115" width="3" height="1" fill="#fff"/>
<rect x="221" y="114" width="1" height="3" fill="#fff"/>
<rect x="220" y="121" width="3" height="1" fill="#fff"/>
<rect x="221" y="120" width="1" height="3" fill="#fff"/>
<rect x="220" y="127" width="3" height="1" fill="#fff"/>
<rect x="221" y="126" width="1" height="3" fill="#fff"/>
<rect x="220" y="133" width="3" height="2" fill="#fff"/>
<rect x="221" y="132" width="1" height="1" fill="#fff"/>
<rect x="220" y="139" width="2" height="2" fill="#fff"/>
<rect x="220" y="145" width="3" height="1" fill="#fff"/>
<rect x="221" y="144" width="1" height="3" fill="#fff"/>
<rect x="220" y="151" width="3" height="1" fill="#fff"/>
<rect x="221" y="150" width="1" height="3" fill="#fff"/>
<rect x="220" y="157" width="3" height="2" fill="#fff"/>
<rect x="221" y="156" width="1" height="1" fill="#fff"/>
<rect x="220" y="163" width="3" height="1" fill="#fff"/>
<rect x="221" y="162" width="1" height="3" fill="#fff"/>
<rect x="220" y="169" width="2" height="2" fill="#fff"/>
<rect x="220" y="175" width="3" height="1" fill="#fff"/>
<rect x="221" y="174" width="1" height="3" fill="#fff"/>
<rect x="220" y="181" width="3" height="2" fill="#fff"/>
<rect x="221" y="180" width="1" height="1" fill="#fff"/>
<rect x="220" y="187" width="3" height="1" fill="#fff"/>
<rect x="221" y="186" width="1" height="3" fill="#fff"/>
<rect x="220" y="193" width="3" height="1" fill="#fff"/>
<rect x="221" y="192" width="1" height="3" fill="#fff"/>
<rect x="220" y="199" width="2" height="2" fill="#fff"/>
<rect x="220" y="204" width="3" height="2" fill="#fff"/>
<rect x="221" y="203" width="1" height="1" fill="#fff"/>
<rect x="220" y="210" width="3" height="1" fill="#fff"/>
<rect x="221" y="209" width="1" height="3" fill="#fff"/>
<rect x="220" y="216" width="3" height="1" fill="#fff"/>
<rect x="221" y="215" width="1" height="3" fill="#fff"/>
<rect x="220" y="222" width="3" height="1" fill="#fff"/>
<rect x="221" y="221" width="1" height="3" fill="#fff"/>
<rect x="220" y="228" width="2" height="2" fill="#fff"/>
<rect x="125.6" y="203.96" width="2" height="2" fill="#fff"/>
<rect x="129.3" y="161.8" width="65.9" height="15.3" rx="2.5" fill="#fff" shape-rendering="geometricPrecision"/>
<text transform="translate(133.2 174) scale(0.7 1)" font-size="13.7" textLength="80.86" lengthAdjust="spacing">PENTIUM</text>
<rect x="85" y="269" width="1" height="2" fill="#000"/>
<rect x="90" y="269" width="6" height="2" fill="#000"/>
<rect x="100" y="269" width="6" height="2" fill="#000"/>
<rect x="110" y="269" width="6" height="2" fill="#000"/>
<rect x="120" y="269" width="6" height="2" fill="#000"/>
<rect x="130" y="269" width="6" height="2" fill="#000"/>
<rect x="140" y="269" width="6" height="2" fill="#000"/>
<rect x="150" y="269" width="6" height="2" fill="#000"/>
<rect x="160" y="269" width="6" height="2" fill="#000"/>
<rect x="170" y="269" width="6" height="2" fill="#000"/>
<rect x="180" y="269" width="6" height="2" fill="#000"/>
<rect x="190" y="269" width="6" height="2" fill="#000"/>
<rect x="200" y="269" width="6" height="2" fill="#000"/>
<rect x="210" y="269" width="6" height="2" fill="#000"/>
<rect x="220" y="269" width="6" height="2" fill="#000"/>
<rect x="230" y="269" width="6" height="2" fill="#000"/>
<rect x="240" y="269" width="6" height="2" fill="#000"/>
<rect x="250" y="269" width="6" height="2" fill="#000"/>
<rect x="260" y="269" width="6" height="2" fill="#000"/>
<rect x="270" y="269" width="6" height="2" fill="#000"/>
<rect x="280" y="269" width="6" height="2" fill="#000"/>
<rect x="287" y="253" width="2" height="6" fill="#000"/>
<rect x="287" y="263" width="2" height="6" fill="#000"/>
<rect x="287" y="253" width="3" height="3" fill="#000"/>
<rect x="294" y="253" width="6" height="3" fill="#000"/>
<rect x="304" y="253" width="6" height="3" fill="#000"/>
<rect x="314" y="253" width="6" height="3" fill="#000"/>
<rect x="324" y="253" width="6" height="3" fill="#000"/>
<rect x="334" y="253" width="6" height="3" fill="#000"/>
<rect x="344" y="253" width="6" height="3" fill="#000"/>
<rect x="354" y="253" width="6" height="3" fill="#000"/>
<rect x="364" y="253" width="6" height="3" fill="#000"/>
<rect x="374" y="253" width="6" height="3" fill="#000"/>
<rect x="384" y="253" width="4" height="3" fill="#000"/>
<rect x="386" y="253" width="2" height="5" fill="#000"/>
<rect x="386" y="262" width="2" height="6" fill="#000"/>
<rect x="386" y="272" width="2" height="6" fill="#000"/>
<rect x="386" y="282" width="2" height="6" fill="#000"/>
<rect x="386" y="292" width="2" height="6" fill="#000"/>
<rect x="386" y="302" width="2" height="6" fill="#000"/>
<rect x="386" y="312" width="2" height="2" fill="#000"/>
<rect x="292" y="312" width="6" height="2" fill="#000"/>
<rect x="302" y="312" width="6" height="2" fill="#000"/>
<rect x="312" y="312" width="6" height="2" fill="#000"/>
<rect x="322" y="312" width="6" height="2" fill="#000"/>
<rect x="332" y="312" width="6" height="2" fill="#000"/>
<rect x="342" y="312" width="6" height="2" fill="#000"/>
<rect x="352" y="312" width="6" height="2" fill="#000"/>
<rect x="362" y="312" width="6" height="2" fill="#000"/>
<rect x="372" y="312" width="6" height="2" fill="#000"/>
<rect x="382" y="312" width="6" height="2" fill="#000"/>
<rect x="287" y="314" width="2" height="2" fill="#000"/>
<rect x="287" y="320" width="2" height="6" fill="#000"/>
<rect x="287" y="330" width="2" height="6" fill="#000"/>
<rect x="287" y="340" width="2" height="6" fill="#000"/>
<rect x="287" y="350" width="2" height="6" fill="#000"/>
<rect x="287" y="360" width="2" height="6" fill="#000"/>
<rect x="287" y="370" width="2" height="6" fill="#000"/>
<rect x="287" y="380" width="2" height="6" fill="#000"/>
<rect x="287" y="390" width="2" height="6" fill="#000"/>
<rect x="287" y="400" width="2" height="6" fill="#000"/>
<rect x="287" y="410" width="2" height="6" fill="#000"/>
<rect x="287" y="420" width="2" height="6" fill="#000"/>
<rect x="287" y="430" width="2" height="6" fill="#000"/>
<rect x="287" y="440" width="2" height="6" fill="#000"/>
<rect x="287" y="450" width="2" height="6" fill="#000"/>
<rect x="287" y="460" width="2" height="6" fill="#000"/>
<rect x="287" y="470" width="2" height="6" fill="#000"/>
<rect x="287" y="480" width="2" height="6" fill="#000"/>
<rect x="287" y="490" width="2" height="6" fill="#000"/>
<rect x="287" y="500" width="2" height="6" fill="#000"/>
<rect x="287" y="510" width="2" height="6" fill="#000"/>
<rect x="287" y="520" width="2" height="4" fill="#000"/>
<rect x="85" y="522" width="4" height="2" fill="#000"/>
<rect x="93" y="522" width="6" height="2" fill="#000"/>
<rect x="103" y="522" width="6" height="2" fill="#000"/>
<rect x="113" y="522" width="6" height="2" fill="#000"/>
<rect x="123" y="522" width="6" height="2" fill="#000"/>
<rect x="133" y="522" width="6" height="2" fill="#000"/>
<rect x="143" y="522" width="6" height="2" fill="#000"/>
<rect x="153" y="522" width="6" height="2" fill="#000"/>
<rect x="163" y="522" width="6" height="2" fill="#000"/>
<rect x="173" y="522" width="6" height="2" fill="#000"/>
<rect x="183" y="522" width="6" height="2" fill="#000"/>
<rect x="193" y="522" width="6" height="2" fill="#000"/>
<rect x="203" y="522" width="6" height="2" fill="#000"/>
<rect x="213" y="522" width="6" height="2" fill="#000"/>
<rect x="223" y="522" width="6" height="2" fill="#000"/>
<rect x="233" y="522" width="6" height="2" fill="#000"/>
<rect x="243" y="522" width="6" height="2" fill="#000"/>
<rect x="253" y="522" width="6" height="2" fill="#000"/>
<rect x="263" y="522" width="6" height="2" fill="#000"/>
<rect x="273" y="522" width="6" height="2" fill="#000"/>
<rect x="283" y="522" width="6" height="2" fill="#000"/>
<rect x="85" y="270" width="2" height="6" fill="#000"/>
<rect x="85" y="280" width="2" height="6" fill="#000"/>
<rect x="85" y="290" width="2" height="6" fill="#000"/>
<rect x="85" y="300" width="2" height="6" fill="#000"/>
<rect x="85" y="310" width="2" height="6" fill="#000"/>
<rect x="85" y="320" width="2" height="6" fill="#000"/>
<rect x="85" y="330" width="2" height="6" fill="#000"/>
<rect x="85" y="340" width="2" height="6" fill="#000"/>
<rect x="85" y="350" width="2" height="6" fill="#000"/>
<rect x="85" y="360" width="2" height="6" fill="#000"/>
<rect x="85" y="370" width="2" height="6" fill="#000"/>
<rect x="85" y="380" width="2" height="6" fill="#000"/>
<rect x="85" y="390" width="2" height="6" fill="#000"/>
<rect x="85" y="400" width="2" height="6" fill="#000"/>
<rect x="85" y="410" width="2" height="6" fill="#000"/>
<rect x="85" y="420" width="2" height="6" fill="#000"/>
<rect x="85" y="430" width="2" height="6" fill="#000"/>
<rect x="85" y="440" width="2" height="6" fill="#000"/>
<rect x="85" y="450" width="2" height="6" fill="#000"/>
<rect x="85" y="460" width="2" height="6" fill="#000"/>
<rect x="85" y="470" width="2" height="6" fill="#000"/>
<rect x="85" y="480" width="2" height="6" fill="#000"/>
<rect x="85" y="490" width="2" height="6" fill="#000"/>
<rect x="85" y="500" width="2" height="6" fill="#000"/>
<rect x="85" y="510" width="2" height="6" fill="#000"/>
<rect x="85" y="520" width="2" height="4" fill="#000"/>
<rect x="116.2" y="277.9" width="60.2" height="23.7" fill="#000"/>
<rect x="118.8" y="279.6" width="3.1" height="4.7" fill="#fff"/>
<rect x="118.8" y="295.4" width="3.1" height="4.7" fill="#fff"/>
<rect x="170.7" y="279.6" width="3.1" height="4.7" fill="#fff"/>
<rect x="170.7" y="295.4" width="3.1" height="4.7" fill="#fff"/>
<rect x="124.65" y="279.6" width="3.1" height="4.7" fill="#fff"/>
<rect x="124.65" y="295.4" width="3.1" height="4.7" fill="#fff"/>
<rect x="164.85" y="279.6" width="3.1" height="4.7" fill="#fff"/>
<rect x="164.85" y="295.4" width="3.1" height="4.7" fill="#fff"/>
<rect x="120.5" y="287.45" width="10.5" height="4.8" fill="#fff"/>
<rect x="163" y="287.45" width="6.5" height="4.8" fill="#fff"/>
<path d="M176.6 287.45 a2.4 2.4 0 0 0 0 4.8z" fill="#fff" shape-rendering="geometricPrecision"/>
<rect x="133.6" y="279.5" width="3.2" height="0.9" fill="#fff"/>
<rect x="133.6" y="299.2" width="3.2" height="0.9" fill="#fff"/>
<rect x="139.2" y="279.5" width="3.2" height="0.9" fill="#fff"/>
<rect x="139.2" y="299.2" width="3.2" height="0.9" fill="#fff"/>
<rect x="144.8" y="279.5" width="3.2" height="0.9" fill="#fff"/>
<rect x="144.8" y="299.2" width="3.2" height="0.9" fill="#fff"/>
<rect x="150.4" y="279.5" width="3.2" height="0.9" fill="#fff"/>
<rect x="150.4" y="299.2" width="3.2" height="0.9" fill="#fff"/>
<rect x="156" y="279.5" width="3.2" height="0.9" fill="#fff"/>
<rect x="156" y="299.2" width="3.2" height="0.9" fill="#fff"/>
<rect x="131.6" y="282" width="30.8" height="15.4" rx="2.5" fill="#fff" shape-rendering="geometricPrecision"/>
<text transform="translate(134.8 294.7) scale(0.7 1)" font-size="13.7" textLength="33" lengthAdjust="spacing">U52</text>
<rect x="297.2" y="258.1" width="84.8" height="24.2" fill="#000"/>
<rect x="299.8" y="259.8" width="3.1" height="4.7" fill="#fff"/>
<rect x="299.8" y="276.1" width="3.1" height="4.7" fill="#fff"/>
<rect x="376.3" y="259.8" width="3.1" height="4.7" fill="#fff"/>
<rect x="376.3" y="276.1" width="3.1" height="4.7" fill="#fff"/>
<rect x="305.65" y="259.8" width="3.1" height="4.7" fill="#fff"/>
<rect x="305.65" y="276.1" width="3.1" height="4.7" fill="#fff"/>
<rect x="370.45" y="259.8" width="3.1" height="4.7" fill="#fff"/>
<rect x="370.45" y="276.1" width="3.1" height="4.7" fill="#fff"/>
<rect x="311.5" y="259.8" width="3.1" height="4.7" fill="#fff"/>
<rect x="311.5" y="276.1" width="3.1" height="4.7" fill="#fff"/>
<rect x="364.6" y="259.8" width="3.1" height="4.7" fill="#fff"/>
<rect x="364.6" y="276.1" width="3.1" height="4.7" fill="#fff"/>
<rect x="317.35" y="259.8" width="3.1" height="4.7" fill="#fff"/>
<rect x="317.35" y="276.1" width="3.1" height="4.7" fill="#fff"/>
<rect x="358.75" y="259.8" width="3.1" height="4.7" fill="#fff"/>
<rect x="358.75" y="276.1" width="3.1" height="4.7" fill="#fff"/>
<rect x="302.8" y="267.9" width="20.6" height="4.8" fill="#fff"/>
<rect x="355.6" y="267.9" width="18.4" height="4.8" fill="#fff"/>
<path d="M382.2 267.9 a2.4 2.4 0 0 0 0 4.8z" fill="#fff" shape-rendering="geometricPrecision"/>
<rect x="326.6" y="259.7" width="3.2" height="0.9" fill="#fff"/>
<rect x="326.6" y="279.9" width="3.2" height="0.9" fill="#fff"/>
<rect x="332.2" y="259.7" width="3.2" height="0.9" fill="#fff"/>
<rect x="332.2" y="279.9" width="3.2" height="0.9" fill="#fff"/>
<rect x="337.8" y="259.7" width="3.2" height="0.9" fill="#fff"/>
<rect x="337.8" y="279.9" width="3.2" height="0.9" fill="#fff"/>
<rect x="343.4" y="259.7" width="3.2" height="0.9" fill="#fff"/>
<rect x="343.4" y="279.9" width="3.2" height="0.9" fill="#fff"/>
<rect x="349" y="259.7" width="3.2" height="0.9" fill="#fff"/>
<rect x="349" y="279.9" width="3.2" height="0.9" fill="#fff"/>
<rect x="324.6" y="262.2" width="29.7" height="14.9" rx="2.5" fill="#fff" shape-rendering="geometricPrecision"/>
<text transform="translate(328.5 274.3) scale(0.7 1)" font-size="13.7" textLength="31.14" lengthAdjust="spacing">U30</text>
<rect x="297.2" y="284.1" width="84.8" height="22.5" fill="#000"/>
<rect x="299.8" y="285.8" width="3.1" height="4.7" fill="#fff"/>
<rect x="299.8" y="300.4" width="3.1" height="4.7" fill="#fff"/>
<rect x="376.3" y="285.8" width="3.1" height="4.7" fill="#fff"/>
<rect x="376.3" y="300.4" width="3.1" height="4.7" fill="#fff"/>
<rect x="305.65" y="285.8" width="3.1" height="4.7" fill="#fff"/>
<rect x="305.65" y="300.4" width="3.1" height="4.7" fill="#fff"/>
<rect x="370.45" y="285.8" width="3.1" height="4.7" fill="#fff"/>
<rect x="370.45" y="300.4" width="3.1" height="4.7" fill="#fff"/>
<rect x="311.5" y="285.8" width="3.1" height="4.7" fill="#fff"/>
<rect x="311.5" y="300.4" width="3.1" height="4.7" fill="#fff"/>
<rect x="364.6" y="285.8" width="3.1" height="4.7" fill="#fff"/>
<rect x="364.6" y="300.4" width="3.1" height="4.7" fill="#fff"/>
<rect x="317.35" y="285.8" width="3.1" height="4.7" fill="#fff"/>
<rect x="317.35" y="300.4" width="3.1" height="4.7" fill="#fff"/>
<rect x="358.75" y="285.8" width="3.1" height="4.7" fill="#fff"/>
<rect x="358.75" y="300.4" width="3.1" height="4.7" fill="#fff"/>
<rect x="302.8" y="293.05" width="20.6" height="4.8" fill="#fff"/>
<rect x="355.6" y="293.05" width="18.4" height="4.8" fill="#fff"/>
<path d="M382.2 293.05 a2.4 2.4 0 0 0 0 4.8z" fill="#fff" shape-rendering="geometricPrecision"/>
<rect x="326.6" y="285.7" width="3.2" height="0.9" fill="#fff"/>
<rect x="326.6" y="304.2" width="3.2" height="0.9" fill="#fff"/>
<rect x="332.2" y="285.7" width="3.2" height="0.9" fill="#fff"/>
<rect x="332.2" y="304.2" width="3.2" height="0.9" fill="#fff"/>
<rect x="337.8" y="285.7" width="3.2" height="0.9" fill="#fff"/>
<rect x="337.8" y="304.2" width="3.2" height="0.9" fill="#fff"/>
<rect x="343.4" y="285.7" width="3.2" height="0.9" fill="#fff"/>
<rect x="343.4" y="304.2" width="3.2" height="0.9" fill="#fff"/>
<rect x="349" y="285.7" width="3.2" height="0.9" fill="#fff"/>
<rect x="349" y="304.2" width="3.2" height="0.9" fill="#fff"/>
<rect x="324.6" y="288.6" width="29.7" height="14.9" rx="2.5" fill="#fff" shape-rendering="geometricPrecision"/>
<text transform="translate(328.5 299.8) scale(0.7 1)" font-size="13.7" textLength="31.14" lengthAdjust="spacing">U31</text>
<rect x="297.2" y="282.4" width="84.8" height="1.2" fill="#fff"/>
<rect x="214.2" y="280.5" width="50.9" height="17.9" rx="4" fill="#000" shape-rendering="geometricPrecision"/>
<rect x="215.9" y="282.2" width="46.8" height="13.8" rx="2.5" fill="#fff" shape-rendering="geometricPrecision"/>
<text transform="translate(216.9 294) scale(0.7 1)" font-size="13.7" textLength="62.14" lengthAdjust="spacing">CACHE</text>
<rect x="92" y="308.9" width="83.8" height="24.8" fill="#000"/>
<rect x="193.4" y="308.9" width="84.6" height="24.8" fill="#000"/>
<rect x="94.1" y="310.9" width="3.4" height="5.7" fill="#fff"/>
<rect x="94.1" y="326.9" width="3.4" height="5" fill="#fff"/>
<rect x="100" y="310.9" width="3.4" height="5.7" fill="#fff"/>
<rect x="100" y="326.9" width="3.4" height="5" fill="#fff"/>
<rect x="105.9" y="310.9" width="3.4" height="5.7" fill="#fff"/>
<rect x="105.9" y="326.9" width="3.4" height="5" fill="#fff"/>
<rect x="111.8" y="310.9" width="3.4" height="5.7" fill="#fff"/>
<rect x="111.8" y="326.9" width="3.4" height="5" fill="#fff"/>
<rect x="117.7" y="310.9" width="3.4" height="5.7" fill="#fff"/>
<rect x="117.7" y="326.9" width="3.4" height="5" fill="#fff"/>
<rect x="123.6" y="310.9" width="3.4" height="5.7" fill="#fff"/>
<rect x="123.6" y="326.9" width="3.4" height="5" fill="#fff"/>
<rect x="129.5" y="310.9" width="3.4" height="5.7" fill="#fff"/>
<rect x="129.5" y="326.9" width="3.4" height="5" fill="#fff"/>
<rect x="135.4" y="310.9" width="3.4" height="5.7" fill="#fff"/>
<rect x="135.4" y="326.9" width="3.4" height="5" fill="#fff"/>
<rect x="141.3" y="310.9" width="3.4" height="5.7" fill="#fff"/>
<rect x="141.3" y="326.9" width="3.4" height="5" fill="#fff"/>
<rect x="147.2" y="310.9" width="3.4" height="5.7" fill="#fff"/>
<rect x="147.2" y="326.9" width="3.4" height="5" fill="#fff"/>
<rect x="218" y="310.9" width="3.4" height="5.7" fill="#fff"/>
<rect x="218" y="326.9" width="3.4" height="5" fill="#fff"/>
<rect x="223.9" y="310.9" width="3.4" height="5.7" fill="#fff"/>
<rect x="223.9" y="326.9" width="3.4" height="5" fill="#fff"/>
<rect x="229.8" y="310.9" width="3.4" height="5.7" fill="#fff"/>
<rect x="229.8" y="326.9" width="3.4" height="5" fill="#fff"/>
<rect x="235.7" y="310.9" width="3.4" height="5.7" fill="#fff"/>
<rect x="235.7" y="326.9" width="3.4" height="5" fill="#fff"/>
<rect x="241.6" y="310.9" width="3.4" height="5.7" fill="#fff"/>
<rect x="241.6" y="326.9" width="3.4" height="5" fill="#fff"/>
<rect x="247.5" y="310.9" width="3.4" height="5.7" fill="#fff"/>
<rect x="247.5" y="326.9" width="3.4" height="5" fill="#fff"/>
<rect x="253.4" y="310.9" width="3.4" height="5.7" fill="#fff"/>
<rect x="253.4" y="326.9" width="3.4" height="5" fill="#fff"/>
<rect x="259.3" y="310.9" width="3.4" height="5.7" fill="#fff"/>
<rect x="259.3" y="326.9" width="3.4" height="5" fill="#fff"/>
<rect x="265.2" y="310.9" width="3.4" height="5.7" fill="#fff"/>
<rect x="265.2" y="326.9" width="3.4" height="5" fill="#fff"/>
<rect x="271.1" y="310.9" width="3.4" height="5.7" fill="#fff"/>
<rect x="271.1" y="326.9" width="3.4" height="5" fill="#fff"/>
<rect x="96.8" y="319.1" width="33.2" height="4.8" fill="#fff"/>
<rect x="135" y="319.1" width="21" height="4.8" fill="#fff"/>
<rect x="213" y="319.1" width="18.2" height="4.8" fill="#fff"/>
<rect x="236.3" y="319.1" width="38.9" height="4.8" fill="#fff"/>
<path d="M278.2 319.1 a2.4 2.4 0 0 0 0 4.8z" fill="#fff" shape-rendering="geometricPrecision"/>
<rect x="153.6" y="310.7" width="22.2" height="21.2" fill="#fff"/>
<rect x="193.4" y="310.7" width="22.8" height="21.2" fill="#fff"/>
<rect x="150.5" y="316.6" width="4" height="2.5" fill="#000"/>
<rect x="150.5" y="323.9" width="4" height="3" fill="#000"/>
<rect x="215.5" y="316.6" width="3.5" height="2.5" fill="#000"/>
<rect x="215.5" y="323.9" width="3.5" height="3" fill="#000"/>
<rect x="158.6" y="311.1" width="3.4" height="0.9" fill="#000"/>
<rect x="158.6" y="330.4" width="3.4" height="0.9" fill="#000"/>
<rect x="164.4" y="311.1" width="3.4" height="0.9" fill="#000"/>
<rect x="164.4" y="330.4" width="3.4" height="0.9" fill="#000"/>
<rect x="170.2" y="311.1" width="3.4" height="0.9" fill="#000"/>
<rect x="170.2" y="330.4" width="3.4" height="0.9" fill="#000"/>
<rect x="196.6" y="311.1" width="3.4" height="0.9" fill="#000"/>
<rect x="196.6" y="330.4" width="3.4" height="0.9" fill="#000"/>
<rect x="202.4" y="311.1" width="3.4" height="0.9" fill="#000"/>
<rect x="202.4" y="330.4" width="3.4" height="0.9" fill="#000"/>
<rect x="208.2" y="311.1" width="3.4" height="0.9" fill="#000"/>
<rect x="208.2" y="330.4" width="3.4" height="0.9" fill="#000"/>
<rect x="155" y="312" width="59.7" height="18.2" rx="3" fill="#000" shape-rendering="geometricPrecision"/>
<rect x="156.9" y="314" width="55.6" height="14.1" rx="2" fill="#fff" shape-rendering="geometricPrecision"/>
<text transform="translate(161 325.8) scale(0.7 1)" font-size="13.7" textLength="66.57" lengthAdjust="spacing" xml:space="preserve">BANK 0</text>
<rect x="92" y="337.1" width="83.8" height="24.7" fill="#000"/>
<rect x="193.4" y="337.1" width="84.6" height="24.7" fill="#000"/>
<rect x="94.1" y="339.1" width="3.4" height="5.7" fill="#fff"/>
<rect x="94.1" y="355.1" width="3.4" height="4.9" fill="#fff"/>
<rect x="100" y="339.1" width="3.4" height="5.7" fill="#fff"/>
<rect x="100" y="355.1" width="3.4" height="4.9" fill="#fff"/>
<rect x="105.9" y="339.1" width="3.4" height="5.7" fill="#fff"/>
<rect x="105.9" y="355.1" width="3.4" height="4.9" fill="#fff"/>
<rect x="111.8" y="339.1" width="3.4" height="5.7" fill="#fff"/>
<rect x="111.8" y="355.1" width="3.4" height="4.9" fill="#fff"/>
<rect x="117.7" y="339.1" width="3.4" height="5.7" fill="#fff"/>
<rect x="117.7" y="355.1" width="3.4" height="4.9" fill="#fff"/>
<rect x="123.6" y="339.1" width="3.4" height="5.7" fill="#fff"/>
<rect x="123.6" y="355.1" width="3.4" height="4.9" fill="#fff"/>
<rect x="129.5" y="339.1" width="3.4" height="5.7" fill="#fff"/>
<rect x="129.5" y="355.1" width="3.4" height="4.9" fill="#fff"/>
<rect x="135.4" y="339.1" width="3.4" height="5.7" fill="#fff"/>
<rect x="135.4" y="355.1" width="3.4" height="4.9" fill="#fff"/>
<rect x="141.3" y="339.1" width="3.4" height="5.7" fill="#fff"/>
<rect x="141.3" y="355.1" width="3.4" height="4.9" fill="#fff"/>
<rect x="147.2" y="339.1" width="3.4" height="5.7" fill="#fff"/>
<rect x="147.2" y="355.1" width="3.4" height="4.9" fill="#fff"/>
<rect x="218" y="339.1" width="3.4" height="5.7" fill="#fff"/>
<rect x="218" y="355.1" width="3.4" height="4.9" fill="#fff"/>
<rect x="223.9" y="339.1" width="3.4" height="5.7" fill="#fff"/>
<rect x="223.9" y="355.1" width="3.4" height="4.9" fill="#fff"/>
<rect x="229.8" y="339.1" width="3.4" height="5.7" fill="#fff"/>
<rect x="229.8" y="355.1" width="3.4" height="4.9" fill="#fff"/>
<rect x="235.7" y="339.1" width="3.4" height="5.7" fill="#fff"/>
<rect x="235.7" y="355.1" width="3.4" height="4.9" fill="#fff"/>
<rect x="241.6" y="339.1" width="3.4" height="5.7" fill="#fff"/>
<rect x="241.6" y="355.1" width="3.4" height="4.9" fill="#fff"/>
<rect x="247.5" y="339.1" width="3.4" height="5.7" fill="#fff"/>
<rect x="247.5" y="355.1" width="3.4" height="4.9" fill="#fff"/>
<rect x="253.4" y="339.1" width="3.4" height="5.7" fill="#fff"/>
<rect x="253.4" y="355.1" width="3.4" height="4.9" fill="#fff"/>
<rect x="259.3" y="339.1" width="3.4" height="5.7" fill="#fff"/>
<rect x="259.3" y="355.1" width="3.4" height="4.9" fill="#fff"/>
<rect x="265.2" y="339.1" width="3.4" height="5.7" fill="#fff"/>
<rect x="265.2" y="355.1" width="3.4" height="4.9" fill="#fff"/>
<rect x="271.1" y="339.1" width="3.4" height="5.7" fill="#fff"/>
<rect x="271.1" y="355.1" width="3.4" height="4.9" fill="#fff"/>
<rect x="96.8" y="347.3" width="33.2" height="4.8" fill="#fff"/>
<rect x="135" y="347.3" width="21" height="4.8" fill="#fff"/>
<rect x="213" y="347.3" width="18.2" height="4.8" fill="#fff"/>
<rect x="236.3" y="347.3" width="38.9" height="4.8" fill="#fff"/>
<path d="M278.2 347.3 a2.4 2.4 0 0 0 0 4.8z" fill="#fff" shape-rendering="geometricPrecision"/>
<rect x="153.6" y="338.9" width="22.2" height="21.1" fill="#fff"/>
<rect x="193.4" y="338.9" width="22.8" height="21.1" fill="#fff"/>
<rect x="150.5" y="344.8" width="4" height="2.5" fill="#000"/>
<rect x="150.5" y="352.1" width="4" height="3" fill="#000"/>
<rect x="215.5" y="344.8" width="3.5" height="2.5" fill="#000"/>
<rect x="215.5" y="352.1" width="3.5" height="3" fill="#000"/>
<rect x="158.6" y="339.3" width="3.4" height="0.9" fill="#000"/>
<rect x="158.6" y="358.5" width="3.4" height="0.9" fill="#000"/>
<rect x="164.4" y="339.3" width="3.4" height="0.9" fill="#000"/>
<rect x="164.4" y="358.5" width="3.4" height="0.9" fill="#000"/>
<rect x="170.2" y="339.3" width="3.4" height="0.9" fill="#000"/>
<rect x="170.2" y="358.5" width="3.4" height="0.9" fill="#000"/>
<rect x="196.6" y="339.3" width="3.4" height="0.9" fill="#000"/>
<rect x="196.6" y="358.5" width="3.4" height="0.9" fill="#000"/>
<rect x="202.4" y="339.3" width="3.4" height="0.9" fill="#000"/>
<rect x="202.4" y="358.5" width="3.4" height="0.9" fill="#000"/>
<rect x="208.2" y="339.3" width="3.4" height="0.9" fill="#000"/>
<rect x="208.2" y="358.5" width="3.4" height="0.9" fill="#000"/>
<rect x="155" y="340.2" width="59.7" height="18.2" rx="3" fill="#000" shape-rendering="geometricPrecision"/>
<rect x="156.9" y="342.2" width="55.6" height="14.1" rx="2" fill="#fff" shape-rendering="geometricPrecision"/>
<text transform="translate(161 354) scale(0.7 1)" font-size="13.7" textLength="66.57" lengthAdjust="spacing" xml:space="preserve">BANK 1</text>
<rect x="92" y="363" width="83.8" height="24.9" fill="#000"/>
<rect x="193.4" y="363" width="84.6" height="24.9" fill="#000"/>
<rect x="94.1" y="365" width="3.4" height="5.7" fill="#fff"/>
<rect x="94.1" y="381" width="3.4" height="5.1" fill="#fff"/>
<rect x="100" y="365" width="3.4" height="5.7" fill="#fff"/>
<rect x="100" y="381" width="3.4" height="5.1" fill="#fff"/>
<rect x="105.9" y="365" width="3.4" height="5.7" fill="#fff"/>
<rect x="105.9" y="381" width="3.4" height="5.1" fill="#fff"/>
<rect x="111.8" y="365" width="3.4" height="5.7" fill="#fff"/>
<rect x="111.8" y="381" width="3.4" height="5.1" fill="#fff"/>
<rect x="117.7" y="365" width="3.4" height="5.7" fill="#fff"/>
<rect x="117.7" y="381" width="3.4" height="5.1" fill="#fff"/>
<rect x="123.6" y="365" width="3.4" height="5.7" fill="#fff"/>
<rect x="123.6" y="381" width="3.4" height="5.1" fill="#fff"/>
<rect x="129.5" y="365" width="3.4" height="5.7" fill="#fff"/>
<rect x="129.5" y="381" width="3.4" height="5.1" fill="#fff"/>
<rect x="135.4" y="365" width="3.4" height="5.7" fill="#fff"/>
<rect x="135.4" y="381" width="3.4" height="5.1" fill="#fff"/>
<rect x="141.3" y="365" width="3.4" height="5.7" fill="#fff"/>
<rect x="141.3" y="381" width="3.4" height="5.1" fill="#fff"/>
<rect x="147.2" y="365" width="3.4" height="5.7" fill="#fff"/>
<rect x="147.2" y="381" width="3.4" height="5.1" fill="#fff"/>
<rect x="218" y="365" width="3.4" height="5.7" fill="#fff"/>
<rect x="218" y="381" width="3.4" height="5.1" fill="#fff"/>
<rect x="223.9" y="365" width="3.4" height="5.7" fill="#fff"/>
<rect x="223.9" y="381" width="3.4" height="5.1" fill="#fff"/>
<rect x="229.8" y="365" width="3.4" height="5.7" fill="#fff"/>
<rect x="229.8" y="381" width="3.4" height="5.1" fill="#fff"/>
<rect x="235.7" y="365" width="3.4" height="5.7" fill="#fff"/>
<rect x="235.7" y="381" width="3.4" height="5.1" fill="#fff"/>
<rect x="241.6" y="365" width="3.4" height="5.7" fill="#fff"/>
<rect x="241.6" y="381" width="3.4" height="5.1" fill="#fff"/>
<rect x="247.5" y="365" width="3.4" height="5.7" fill="#fff"/>
<rect x="247.5" y="381" width="3.4" height="5.1" fill="#fff"/>
<rect x="253.4" y="365" width="3.4" height="5.7" fill="#fff"/>
<rect x="253.4" y="381" width="3.4" height="5.1" fill="#fff"/>
<rect x="259.3" y="365" width="3.4" height="5.7" fill="#fff"/>
<rect x="259.3" y="381" width="3.4" height="5.1" fill="#fff"/>
<rect x="265.2" y="365" width="3.4" height="5.7" fill="#fff"/>
<rect x="265.2" y="381" width="3.4" height="5.1" fill="#fff"/>
<rect x="271.1" y="365" width="3.4" height="5.7" fill="#fff"/>
<rect x="271.1" y="381" width="3.4" height="5.1" fill="#fff"/>
<rect x="96.8" y="373.2" width="33.2" height="4.8" fill="#fff"/>
<rect x="135" y="373.2" width="21" height="4.8" fill="#fff"/>
<rect x="213" y="373.2" width="18.2" height="4.8" fill="#fff"/>
<rect x="236.3" y="373.2" width="38.9" height="4.8" fill="#fff"/>
<path d="M278.2 373.2 a2.4 2.4 0 0 0 0 4.8z" fill="#fff" shape-rendering="geometricPrecision"/>
<rect x="153.6" y="364.8" width="22.2" height="21.3" fill="#fff"/>
<rect x="193.4" y="364.8" width="22.8" height="21.3" fill="#fff"/>
<rect x="150.5" y="370.7" width="4" height="2.5" fill="#000"/>
<rect x="150.5" y="378" width="4" height="3" fill="#000"/>
<rect x="215.5" y="370.7" width="3.5" height="2.5" fill="#000"/>
<rect x="215.5" y="378" width="3.5" height="3" fill="#000"/>
<rect x="158.6" y="365.2" width="3.4" height="0.9" fill="#000"/>
<rect x="158.6" y="384.6" width="3.4" height="0.9" fill="#000"/>
<rect x="164.4" y="365.2" width="3.4" height="0.9" fill="#000"/>
<rect x="164.4" y="384.6" width="3.4" height="0.9" fill="#000"/>
<rect x="170.2" y="365.2" width="3.4" height="0.9" fill="#000"/>
<rect x="170.2" y="384.6" width="3.4" height="0.9" fill="#000"/>
<rect x="196.6" y="365.2" width="3.4" height="0.9" fill="#000"/>
<rect x="196.6" y="384.6" width="3.4" height="0.9" fill="#000"/>
<rect x="202.4" y="365.2" width="3.4" height="0.9" fill="#000"/>
<rect x="202.4" y="384.6" width="3.4" height="0.9" fill="#000"/>
<rect x="208.2" y="365.2" width="3.4" height="0.9" fill="#000"/>
<rect x="208.2" y="384.6" width="3.4" height="0.9" fill="#000"/>
<rect x="155" y="366.1" width="59.7" height="18.2" rx="3" fill="#000" shape-rendering="geometricPrecision"/>
<rect x="156.9" y="368.1" width="55.6" height="14.1" rx="2" fill="#fff" shape-rendering="geometricPrecision"/>
<text transform="translate(161 379.9) scale(0.7 1)" font-size="13.7" textLength="66.57" lengthAdjust="spacing" xml:space="preserve">BANK 0</text>
<rect x="92" y="388.9" width="83.8" height="25" fill="#000"/>
<rect x="193.4" y="388.9" width="84.6" height="25" fill="#000"/>
<rect x="94.1" y="390.9" width="3.4" height="5.7" fill="#fff"/>
<rect x="94.1" y="406.9" width="3.4" height="5.2" fill="#fff"/>
<rect x="100" y="390.9" width="3.4" height="5.7" fill="#fff"/>
<rect x="100" y="406.9" width="3.4" height="5.2" fill="#fff"/>
<rect x="105.9" y="390.9" width="3.4" height="5.7" fill="#fff"/>
<rect x="105.9" y="406.9" width="3.4" height="5.2" fill="#fff"/>
<rect x="111.8" y="390.9" width="3.4" height="5.7" fill="#fff"/>
<rect x="111.8" y="406.9" width="3.4" height="5.2" fill="#fff"/>
<rect x="117.7" y="390.9" width="3.4" height="5.7" fill="#fff"/>
<rect x="117.7" y="406.9" width="3.4" height="5.2" fill="#fff"/>
<rect x="123.6" y="390.9" width="3.4" height="5.7" fill="#fff"/>
<rect x="123.6" y="406.9" width="3.4" height="5.2" fill="#fff"/>
<rect x="129.5" y="390.9" width="3.4" height="5.7" fill="#fff"/>
<rect x="129.5" y="406.9" width="3.4" height="5.2" fill="#fff"/>
<rect x="135.4" y="390.9" width="3.4" height="5.7" fill="#fff"/>
<rect x="135.4" y="406.9" width="3.4" height="5.2" fill="#fff"/>
<rect x="141.3" y="390.9" width="3.4" height="5.7" fill="#fff"/>
<rect x="141.3" y="406.9" width="3.4" height="5.2" fill="#fff"/>
<rect x="147.2" y="390.9" width="3.4" height="5.7" fill="#fff"/>
<rect x="147.2" y="406.9" width="3.4" height="5.2" fill="#fff"/>
<rect x="218" y="390.9" width="3.4" height="5.7" fill="#fff"/>
<rect x="218" y="406.9" width="3.4" height="5.2" fill="#fff"/>
<rect x="223.9" y="390.9" width="3.4" height="5.7" fill="#fff"/>
<rect x="223.9" y="406.9" width="3.4" height="5.2" fill="#fff"/>
<rect x="229.8" y="390.9" width="3.4" height="5.7" fill="#fff"/>
<rect x="229.8" y="406.9" width="3.4" height="5.2" fill="#fff"/>
<rect x="235.7" y="390.9" width="3.4" height="5.7" fill="#fff"/>
<rect x="235.7" y="406.9" width="3.4" height="5.2" fill="#fff"/>
<rect x="241.6" y="390.9" width="3.4" height="5.7" fill="#fff"/>
<rect x="241.6" y="406.9" width="3.4" height="5.2" fill="#fff"/>
<rect x="247.5" y="390.9" width="3.4" height="5.7" fill="#fff"/>
<rect x="247.5" y="406.9" width="3.4" height="5.2" fill="#fff"/>
<rect x="253.4" y="390.9" width="3.4" height="5.7" fill="#fff"/>
<rect x="253.4" y="406.9" width="3.4" height="5.2" fill="#fff"/>
<rect x="259.3" y="390.9" width="3.4" height="5.7" fill="#fff"/>
<rect x="259.3" y="406.9" width="3.4" height="5.2" fill="#fff"/>
<rect x="265.2" y="390.9" width="3.4" height="5.7" fill="#fff"/>
<rect x="265.2" y="406.9" width="3.4" height="5.2" fill="#fff"/>
<rect x="271.1" y="390.9" width="3.4" height="5.7" fill="#fff"/>
<rect x="271.1" y="406.9" width="3.4" height="5.2" fill="#fff"/>
<rect x="96.8" y="399.1" width="33.2" height="4.8" fill="#fff"/>
<rect x="135" y="399.1" width="21" height="4.8" fill="#fff"/>
<rect x="213" y="399.1" width="18.2" height="4.8" fill="#fff"/>
<rect x="236.3" y="399.1" width="38.9" height="4.8" fill="#fff"/>
<path d="M278.2 399.1 a2.4 2.4 0 0 0 0 4.8z" fill="#fff" shape-rendering="geometricPrecision"/>
<rect x="153.6" y="390.7" width="22.2" height="21.4" fill="#fff"/>
<rect x="193.4" y="390.7" width="22.8" height="21.4" fill="#fff"/>
<rect x="150.5" y="396.6" width="4" height="2.5" fill="#000"/>
<rect x="150.5" y="403.9" width="4" height="3" fill="#000"/>
<rect x="215.5" y="396.6" width="3.5" height="2.5" fill="#000"/>
<rect x="215.5" y="403.9" width="3.5" height="3" fill="#000"/>
<rect x="158.6" y="391.1" width="3.4" height="0.9" fill="#000"/>
<rect x="158.6" y="410.6" width="3.4" height="0.9" fill="#000"/>
<rect x="164.4" y="391.1" width="3.4" height="0.9" fill="#000"/>
<rect x="164.4" y="410.6" width="3.4" height="0.9" fill="#000"/>
<rect x="170.2" y="391.1" width="3.4" height="0.9" fill="#000"/>
<rect x="170.2" y="410.6" width="3.4" height="0.9" fill="#000"/>
<rect x="196.6" y="391.1" width="3.4" height="0.9" fill="#000"/>
<rect x="196.6" y="410.6" width="3.4" height="0.9" fill="#000"/>
<rect x="202.4" y="391.1" width="3.4" height="0.9" fill="#000"/>
<rect x="202.4" y="410.6" width="3.4" height="0.9" fill="#000"/>
<rect x="208.2" y="391.1" width="3.4" height="0.9" fill="#000"/>
<rect x="208.2" y="410.6" width="3.4" height="0.9" fill="#000"/>
<rect x="155" y="392" width="59.7" height="18.2" rx="3" fill="#000" shape-rendering="geometricPrecision"/>
<rect x="156.9" y="394" width="55.6" height="14.1" rx="2" fill="#fff" shape-rendering="geometricPrecision"/>
<text transform="translate(161 405.8) scale(0.7 1)" font-size="13.7" textLength="66.57" lengthAdjust="spacing" xml:space="preserve">BANK 1</text>
<rect x="92" y="415" width="83.8" height="24.9" fill="#000"/>
<rect x="193.4" y="415" width="84.6" height="24.9" fill="#000"/>
<rect x="94.1" y="417" width="3.4" height="5.7" fill="#fff"/>
<rect x="94.1" y="433" width="3.4" height="5.1" fill="#fff"/>
<rect x="100" y="417" width="3.4" height="5.7" fill="#fff"/>
<rect x="100" y="433" width="3.4" height="5.1" fill="#fff"/>
<rect x="105.9" y="417" width="3.4" height="5.7" fill="#fff"/>
<rect x="105.9" y="433" width="3.4" height="5.1" fill="#fff"/>
<rect x="111.8" y="417" width="3.4" height="5.7" fill="#fff"/>
<rect x="111.8" y="433" width="3.4" height="5.1" fill="#fff"/>
<rect x="117.7" y="417" width="3.4" height="5.7" fill="#fff"/>
<rect x="117.7" y="433" width="3.4" height="5.1" fill="#fff"/>
<rect x="123.6" y="417" width="3.4" height="5.7" fill="#fff"/>
<rect x="123.6" y="433" width="3.4" height="5.1" fill="#fff"/>
<rect x="129.5" y="417" width="3.4" height="5.7" fill="#fff"/>
<rect x="129.5" y="433" width="3.4" height="5.1" fill="#fff"/>
<rect x="135.4" y="417" width="3.4" height="5.7" fill="#fff"/>
<rect x="135.4" y="433" width="3.4" height="5.1" fill="#fff"/>
<rect x="141.3" y="417" width="3.4" height="5.7" fill="#fff"/>
<rect x="141.3" y="433" width="3.4" height="5.1" fill="#fff"/>
<rect x="147.2" y="417" width="3.4" height="5.7" fill="#fff"/>
<rect x="147.2" y="433" width="3.4" height="5.1" fill="#fff"/>
<rect x="218" y="417" width="3.4" height="5.7" fill="#fff"/>
<rect x="218" y="433" width="3.4" height="5.1" fill="#fff"/>
<rect x="223.9" y="417" width="3.4" height="5.7" fill="#fff"/>
<rect x="223.9" y="433" width="3.4" height="5.1" fill="#fff"/>
<rect x="229.8" y="417" width="3.4" height="5.7" fill="#fff"/>
<rect x="229.8" y="433" width="3.4" height="5.1" fill="#fff"/>
<rect x="235.7" y="417" width="3.4" height="5.7" fill="#fff"/>
<rect x="235.7" y="433" width="3.4" height="5.1" fill="#fff"/>
<rect x="241.6" y="417" width="3.4" height="5.7" fill="#fff"/>
<rect x="241.6" y="433" width="3.4" height="5.1" fill="#fff"/>
<rect x="247.5" y="417" width="3.4" height="5.7" fill="#fff"/>
<rect x="247.5" y="433" width="3.4" height="5.1" fill="#fff"/>
<rect x="253.4" y="417" width="3.4" height="5.7" fill="#fff"/>
<rect x="253.4" y="433" width="3.4" height="5.1" fill="#fff"/>
<rect x="259.3" y="417" width="3.4" height="5.7" fill="#fff"/>
<rect x="259.3" y="433" width="3.4" height="5.1" fill="#fff"/>
<rect x="265.2" y="417" width="3.4" height="5.7" fill="#fff"/>
<rect x="265.2" y="433" width="3.4" height="5.1" fill="#fff"/>
<rect x="271.1" y="417" width="3.4" height="5.7" fill="#fff"/>
<rect x="271.1" y="433" width="3.4" height="5.1" fill="#fff"/>
<rect x="96.8" y="425.2" width="33.2" height="4.8" fill="#fff"/>
<rect x="135" y="425.2" width="21" height="4.8" fill="#fff"/>
<rect x="213" y="425.2" width="18.2" height="4.8" fill="#fff"/>
<rect x="236.3" y="425.2" width="38.9" height="4.8" fill="#fff"/>
<path d="M278.2 425.2 a2.4 2.4 0 0 0 0 4.8z" fill="#fff" shape-rendering="geometricPrecision"/>
<rect x="153.6" y="416.8" width="22.2" height="21.3" fill="#fff"/>
<rect x="193.4" y="416.8" width="22.8" height="21.3" fill="#fff"/>
<rect x="150.5" y="422.7" width="4" height="2.5" fill="#000"/>
<rect x="150.5" y="430" width="4" height="3" fill="#000"/>
<rect x="215.5" y="422.7" width="3.5" height="2.5" fill="#000"/>
<rect x="215.5" y="430" width="3.5" height="3" fill="#000"/>
<rect x="158.6" y="417.2" width="3.4" height="0.9" fill="#000"/>
<rect x="158.6" y="436.6" width="3.4" height="0.9" fill="#000"/>
<rect x="164.4" y="417.2" width="3.4" height="0.9" fill="#000"/>
<rect x="164.4" y="436.6" width="3.4" height="0.9" fill="#000"/>
<rect x="170.2" y="417.2" width="3.4" height="0.9" fill="#000"/>
<rect x="170.2" y="436.6" width="3.4" height="0.9" fill="#000"/>
<rect x="196.6" y="417.2" width="3.4" height="0.9" fill="#000"/>
<rect x="196.6" y="436.6" width="3.4" height="0.9" fill="#000"/>
<rect x="202.4" y="417.2" width="3.4" height="0.9" fill="#000"/>
<rect x="202.4" y="436.6" width="3.4" height="0.9" fill="#000"/>
<rect x="208.2" y="417.2" width="3.4" height="0.9" fill="#000"/>
<rect x="208.2" y="436.6" width="3.4" height="0.9" fill="#000"/>
<rect x="155" y="418.1" width="59.7" height="18.2" rx="3" fill="#000" shape-rendering="geometricPrecision"/>
<rect x="156.9" y="420.1" width="55.6" height="14.1" rx="2" fill="#fff" shape-rendering="geometricPrecision"/>
<text transform="translate(161 431.9) scale(0.7 1)" font-size="13.7" textLength="66.57" lengthAdjust="spacing" xml:space="preserve">BANK 0</text>
<rect x="92" y="440.8" width="83.8" height="25" fill="#000"/>
<rect x="193.4" y="440.8" width="84.6" height="25" fill="#000"/>
<rect x="94.1" y="442.8" width="3.4" height="5.7" fill="#fff"/>
<rect x="94.1" y="458.8" width="3.4" height="5.2" fill="#fff"/>
<rect x="100" y="442.8" width="3.4" height="5.7" fill="#fff"/>
<rect x="100" y="458.8" width="3.4" height="5.2" fill="#fff"/>
<rect x="105.9" y="442.8" width="3.4" height="5.7" fill="#fff"/>
<rect x="105.9" y="458.8" width="3.4" height="5.2" fill="#fff"/>
<rect x="111.8" y="442.8" width="3.4" height="5.7" fill="#fff"/>
<rect x="111.8" y="458.8" width="3.4" height="5.2" fill="#fff"/>
<rect x="117.7" y="442.8" width="3.4" height="5.7" fill="#fff"/>
<rect x="117.7" y="458.8" width="3.4" height="5.2" fill="#fff"/>
<rect x="123.6" y="442.8" width="3.4" height="5.7" fill="#fff"/>
<rect x="123.6" y="458.8" width="3.4" height="5.2" fill="#fff"/>
<rect x="129.5" y="442.8" width="3.4" height="5.7" fill="#fff"/>
<rect x="129.5" y="458.8" width="3.4" height="5.2" fill="#fff"/>
<rect x="135.4" y="442.8" width="3.4" height="5.7" fill="#fff"/>
<rect x="135.4" y="458.8" width="3.4" height="5.2" fill="#fff"/>
<rect x="141.3" y="442.8" width="3.4" height="5.7" fill="#fff"/>
<rect x="141.3" y="458.8" width="3.4" height="5.2" fill="#fff"/>
<rect x="147.2" y="442.8" width="3.4" height="5.7" fill="#fff"/>
<rect x="147.2" y="458.8" width="3.4" height="5.2" fill="#fff"/>
<rect x="218" y="442.8" width="3.4" height="5.7" fill="#fff"/>
<rect x="218" y="458.8" width="3.4" height="5.2" fill="#fff"/>
<rect x="223.9" y="442.8" width="3.4" height="5.7" fill="#fff"/>
<rect x="223.9" y="458.8" width="3.4" height="5.2" fill="#fff"/>
<rect x="229.8" y="442.8" width="3.4" height="5.7" fill="#fff"/>
<rect x="229.8" y="458.8" width="3.4" height="5.2" fill="#fff"/>
<rect x="235.7" y="442.8" width="3.4" height="5.7" fill="#fff"/>
<rect x="235.7" y="458.8" width="3.4" height="5.2" fill="#fff"/>
<rect x="241.6" y="442.8" width="3.4" height="5.7" fill="#fff"/>
<rect x="241.6" y="458.8" width="3.4" height="5.2" fill="#fff"/>
<rect x="247.5" y="442.8" width="3.4" height="5.7" fill="#fff"/>
<rect x="247.5" y="458.8" width="3.4" height="5.2" fill="#fff"/>
<rect x="253.4" y="442.8" width="3.4" height="5.7" fill="#fff"/>
<rect x="253.4" y="458.8" width="3.4" height="5.2" fill="#fff"/>
<rect x="259.3" y="442.8" width="3.4" height="5.7" fill="#fff"/>
<rect x="259.3" y="458.8" width="3.4" height="5.2" fill="#fff"/>
<rect x="265.2" y="442.8" width="3.4" height="5.7" fill="#fff"/>
<rect x="265.2" y="458.8" width="3.4" height="5.2" fill="#fff"/>
<rect x="271.1" y="442.8" width="3.4" height="5.7" fill="#fff"/>
<rect x="271.1" y="458.8" width="3.4" height="5.2" fill="#fff"/>
<rect x="96.8" y="451" width="33.2" height="4.8" fill="#fff"/>
<rect x="135" y="451" width="21" height="4.8" fill="#fff"/>
<rect x="213" y="451" width="18.2" height="4.8" fill="#fff"/>
<rect x="236.3" y="451" width="38.9" height="4.8" fill="#fff"/>
<path d="M278.2 451 a2.4 2.4 0 0 0 0 4.8z" fill="#fff" shape-rendering="geometricPrecision"/>
<rect x="153.6" y="442.6" width="22.2" height="21.4" fill="#fff"/>
<rect x="193.4" y="442.6" width="22.8" height="21.4" fill="#fff"/>
<rect x="150.5" y="448.5" width="4" height="2.5" fill="#000"/>
<rect x="150.5" y="455.8" width="4" height="3" fill="#000"/>
<rect x="215.5" y="448.5" width="3.5" height="2.5" fill="#000"/>
<rect x="215.5" y="455.8" width="3.5" height="3" fill="#000"/>
<rect x="158.6" y="443" width="3.4" height="0.9" fill="#000"/>
<rect x="158.6" y="462.5" width="3.4" height="0.9" fill="#000"/>
<rect x="164.4" y="443" width="3.4" height="0.9" fill="#000"/>
<rect x="164.4" y="462.5" width="3.4" height="0.9" fill="#000"/>
<rect x="170.2" y="443" width="3.4" height="0.9" fill="#000"/>
<rect x="170.2" y="462.5" width="3.4" height="0.9" fill="#000"/>
<rect x="196.6" y="443" width="3.4" height="0.9" fill="#000"/>
<rect x="196.6" y="462.5" width="3.4" height="0.9" fill="#000"/>
<rect x="202.4" y="443" width="3.4" height="0.9" fill="#000"/>
<rect x="202.4" y="462.5" width="3.4" height="0.9" fill="#000"/>
<rect x="208.2" y="443" width="3.4" height="0.9" fill="#000"/>
<rect x="208.2" y="462.5" width="3.4" height="0.9" fill="#000"/>
<rect x="155" y="443.9" width="59.7" height="18.2" rx="3" fill="#000" shape-rendering="geometricPrecision"/>
<rect x="156.9" y="445.9" width="55.6" height="14.1" rx="2" fill="#fff" shape-rendering="geometricPrecision"/>
<text transform="translate(161 457.7) scale(0.7 1)" font-size="13.7" textLength="66.57" lengthAdjust="spacing" xml:space="preserve">BANK 1</text>
<rect x="92" y="466.8" width="83.8" height="25" fill="#000"/>
<rect x="193.4" y="466.8" width="84.6" height="25" fill="#000"/>
<rect x="94.1" y="468.8" width="3.4" height="5.7" fill="#fff"/>
<rect x="94.1" y="484.8" width="3.4" height="5.2" fill="#fff"/>
<rect x="100" y="468.8" width="3.4" height="5.7" fill="#fff"/>
<rect x="100" y="484.8" width="3.4" height="5.2" fill="#fff"/>
<rect x="105.9" y="468.8" width="3.4" height="5.7" fill="#fff"/>
<rect x="105.9" y="484.8" width="3.4" height="5.2" fill="#fff"/>
<rect x="111.8" y="468.8" width="3.4" height="5.7" fill="#fff"/>
<rect x="111.8" y="484.8" width="3.4" height="5.2" fill="#fff"/>
<rect x="117.7" y="468.8" width="3.4" height="5.7" fill="#fff"/>
<rect x="117.7" y="484.8" width="3.4" height="5.2" fill="#fff"/>
<rect x="123.6" y="468.8" width="3.4" height="5.7" fill="#fff"/>
<rect x="123.6" y="484.8" width="3.4" height="5.2" fill="#fff"/>
<rect x="129.5" y="468.8" width="3.4" height="5.7" fill="#fff"/>
<rect x="129.5" y="484.8" width="3.4" height="5.2" fill="#fff"/>
<rect x="135.4" y="468.8" width="3.4" height="5.7" fill="#fff"/>
<rect x="135.4" y="484.8" width="3.4" height="5.2" fill="#fff"/>
<rect x="141.3" y="468.8" width="3.4" height="5.7" fill="#fff"/>
<rect x="141.3" y="484.8" width="3.4" height="5.2" fill="#fff"/>
<rect x="147.2" y="468.8" width="3.4" height="5.7" fill="#fff"/>
<rect x="147.2" y="484.8" width="3.4" height="5.2" fill="#fff"/>
<rect x="218" y="468.8" width="3.4" height="5.7" fill="#fff"/>
<rect x="218" y="484.8" width="3.4" height="5.2" fill="#fff"/>
<rect x="223.9" y="468.8" width="3.4" height="5.7" fill="#fff"/>
<rect x="223.9" y="484.8" width="3.4" height="5.2" fill="#fff"/>
<rect x="229.8" y="468.8" width="3.4" height="5.7" fill="#fff"/>
<rect x="229.8" y="484.8" width="3.4" height="5.2" fill="#fff"/>
<rect x="235.7" y="468.8" width="3.4" height="5.7" fill="#fff"/>
<rect x="235.7" y="484.8" width="3.4" height="5.2" fill="#fff"/>
<rect x="241.6" y="468.8" width="3.4" height="5.7" fill="#fff"/>
<rect x="241.6" y="484.8" width="3.4" height="5.2" fill="#fff"/>
<rect x="247.5" y="468.8" width="3.4" height="5.7" fill="#fff"/>
<rect x="247.5" y="484.8" width="3.4" height="5.2" fill="#fff"/>
<rect x="253.4" y="468.8" width="3.4" height="5.7" fill="#fff"/>
<rect x="253.4" y="484.8" width="3.4" height="5.2" fill="#fff"/>
<rect x="259.3" y="468.8" width="3.4" height="5.7" fill="#fff"/>
<rect x="259.3" y="484.8" width="3.4" height="5.2" fill="#fff"/>
<rect x="265.2" y="468.8" width="3.4" height="5.7" fill="#fff"/>
<rect x="265.2" y="484.8" width="3.4" height="5.2" fill="#fff"/>
<rect x="271.1" y="468.8" width="3.4" height="5.7" fill="#fff"/>
<rect x="271.1" y="484.8" width="3.4" height="5.2" fill="#fff"/>
<rect x="96.8" y="477" width="33.2" height="4.8" fill="#fff"/>
<rect x="135" y="477" width="21" height="4.8" fill="#fff"/>
<rect x="213" y="477" width="18.2" height="4.8" fill="#fff"/>
<rect x="236.3" y="477" width="38.9" height="4.8" fill="#fff"/>
<path d="M278.2 477 a2.4 2.4 0 0 0 0 4.8z" fill="#fff" shape-rendering="geometricPrecision"/>
<rect x="153.6" y="468.6" width="22.2" height="21.4" fill="#fff"/>
<rect x="193.4" y="468.6" width="22.8" height="21.4" fill="#fff"/>
<rect x="150.5" y="474.5" width="4" height="2.5" fill="#000"/>
<rect x="150.5" y="481.8" width="4" height="3" fill="#000"/>
<rect x="215.5" y="474.5" width="3.5" height="2.5" fill="#000"/>
<rect x="215.5" y="481.8" width="3.5" height="3" fill="#000"/>
<rect x="158.6" y="469" width="3.4" height="0.9" fill="#000"/>
<rect x="158.6" y="488.5" width="3.4" height="0.9" fill="#000"/>
<rect x="164.4" y="469" width="3.4" height="0.9" fill="#000"/>
<rect x="164.4" y="488.5" width="3.4" height="0.9" fill="#000"/>
<rect x="170.2" y="469" width="3.4" height="0.9" fill="#000"/>
<rect x="170.2" y="488.5" width="3.4" height="0.9" fill="#000"/>
<rect x="196.6" y="469" width="3.4" height="0.9" fill="#000"/>
<rect x="196.6" y="488.5" width="3.4" height="0.9" fill="#000"/>
<rect x="202.4" y="469" width="3.4" height="0.9" fill="#000"/>
<rect x="202.4" y="488.5" width="3.4" height="0.9" fill="#000"/>
<rect x="208.2" y="469" width="3.4" height="0.9" fill="#000"/>
<rect x="208.2" y="488.5" width="3.4" height="0.9" fill="#000"/>
<rect x="155" y="469.9" width="59.7" height="18.2" rx="3" fill="#000" shape-rendering="geometricPrecision"/>
<rect x="156.9" y="471.9" width="55.6" height="14.1" rx="2" fill="#fff" shape-rendering="geometricPrecision"/>
<text transform="translate(161 483.7) scale(0.7 1)" font-size="13.7" textLength="66.57" lengthAdjust="spacing" xml:space="preserve">BANK 0</text>
<rect x="92" y="493.8" width="83.8" height="24" fill="#000"/>
<rect x="193.4" y="493.8" width="84.6" height="24" fill="#000"/>
<rect x="94.1" y="495.8" width="3.4" height="5.7" fill="#fff"/>
<rect x="94.1" y="511.8" width="3.4" height="4.2" fill="#fff"/>
<rect x="100" y="495.8" width="3.4" height="5.7" fill="#fff"/>
<rect x="100" y="511.8" width="3.4" height="4.2" fill="#fff"/>
<rect x="105.9" y="495.8" width="3.4" height="5.7" fill="#fff"/>
<rect x="105.9" y="511.8" width="3.4" height="4.2" fill="#fff"/>
<rect x="111.8" y="495.8" width="3.4" height="5.7" fill="#fff"/>
<rect x="111.8" y="511.8" width="3.4" height="4.2" fill="#fff"/>
<rect x="117.7" y="495.8" width="3.4" height="5.7" fill="#fff"/>
<rect x="117.7" y="511.8" width="3.4" height="4.2" fill="#fff"/>
<rect x="123.6" y="495.8" width="3.4" height="5.7" fill="#fff"/>
<rect x="123.6" y="511.8" width="3.4" height="4.2" fill="#fff"/>
<rect x="129.5" y="495.8" width="3.4" height="5.7" fill="#fff"/>
<rect x="129.5" y="511.8" width="3.4" height="4.2" fill="#fff"/>
<rect x="135.4" y="495.8" width="3.4" height="5.7" fill="#fff"/>
<rect x="135.4" y="511.8" width="3.4" height="4.2" fill="#fff"/>
<rect x="141.3" y="495.8" width="3.4" height="5.7" fill="#fff"/>
<rect x="141.3" y="511.8" width="3.4" height="4.2" fill="#fff"/>
<rect x="147.2" y="495.8" width="3.4" height="5.7" fill="#fff"/>
<rect x="147.2" y="511.8" width="3.4" height="4.2" fill="#fff"/>
<rect x="218" y="495.8" width="3.4" height="5.7" fill="#fff"/>
<rect x="218" y="511.8" width="3.4" height="4.2" fill="#fff"/>
<rect x="223.9" y="495.8" width="3.4" height="5.7" fill="#fff"/>
<rect x="223.9" y="511.8" width="3.4" height="4.2" fill="#fff"/>
<rect x="229.8" y="495.8" width="3.4" height="5.7" fill="#fff"/>
<rect x="229.8" y="511.8" width="3.4" height="4.2" fill="#fff"/>
<rect x="235.7" y="495.8" width="3.4" height="5.7" fill="#fff"/>
<rect x="235.7" y="511.8" width="3.4" height="4.2" fill="#fff"/>
<rect x="241.6" y="495.8" width="3.4" height="5.7" fill="#fff"/>
<rect x="241.6" y="511.8" width="3.4" height="4.2" fill="#fff"/>
<rect x="247.5" y="495.8" width="3.4" height="5.7" fill="#fff"/>
<rect x="247.5" y="511.8" width="3.4" height="4.2" fill="#fff"/>
<rect x="253.4" y="495.8" width="3.4" height="5.7" fill="#fff"/>
<rect x="253.4" y="511.8" width="3.4" height="4.2" fill="#fff"/>
<rect x="259.3" y="495.8" width="3.4" height="5.7" fill="#fff"/>
<rect x="259.3" y="511.8" width="3.4" height="4.2" fill="#fff"/>
<rect x="265.2" y="495.8" width="3.4" height="5.7" fill="#fff"/>
<rect x="265.2" y="511.8" width="3.4" height="4.2" fill="#fff"/>
<rect x="271.1" y="495.8" width="3.4" height="5.7" fill="#fff"/>
<rect x="271.1" y="511.8" width="3.4" height="4.2" fill="#fff"/>
<rect x="96.8" y="504" width="33.2" height="4.8" fill="#fff"/>
<rect x="135" y="504" width="21" height="4.8" fill="#fff"/>
<rect x="213" y="504" width="18.2" height="4.8" fill="#fff"/>
<rect x="236.3" y="504" width="38.9" height="4.8" fill="#fff"/>
<path d="M278.2 504 a2.4 2.4 0 0 0 0 4.8z" fill="#fff" shape-rendering="geometricPrecision"/>
<rect x="153.6" y="495.6" width="22.2" height="20.4" fill="#fff"/>
<rect x="193.4" y="495.6" width="22.8" height="20.4" fill="#fff"/>
<rect x="150.5" y="501.5" width="4" height="2.5" fill="#000"/>
<rect x="150.5" y="508.8" width="4" height="3" fill="#000"/>
<rect x="215.5" y="501.5" width="3.5" height="2.5" fill="#000"/>
<rect x="215.5" y="508.8" width="3.5" height="3" fill="#000"/>
<rect x="158.6" y="496" width="3.4" height="0.9" fill="#000"/>
<rect x="158.6" y="514.5" width="3.4" height="0.9" fill="#000"/>
<rect x="164.4" y="496" width="3.4" height="0.9" fill="#000"/>
<rect x="164.4" y="514.5" width="3.4" height="0.9" fill="#000"/>
<rect x="170.2" y="496" width="3.4" height="0.9" fill="#000"/>
<rect x="170.2" y="514.5" width="3.4" height="0.9" fill="#000"/>
<rect x="196.6" y="496" width="3.4" height="0.9" fill="#000"/>
<rect x="196.6" y="514.5" width="3.4" height="0.9" fill="#000"/>
<rect x="202.4" y="496" width="3.4" height="0.9" fill="#000"/>
<rect x="202.4" y="514.5" width="3.4" height="0.9" fill="#000"/>
<rect x="208.2" y="496" width="3.4" height="0.9" fill="#000"/>
<rect x="208.2" y="514.5" width="3.4" height="0.9" fill="#000"/>
<rect x="155" y="496.9" width="59.7" height="18.2" rx="3" fill="#000" shape-rendering="geometricPrecision"/>
<rect x="156.9" y="498.9" width="55.6" height="14.1" rx="2" fill="#fff" shape-rendering="geometricPrecision"/>
<text transform="translate(161 510.7) scale(0.7 1)" font-size="13.7" textLength="66.57" lengthAdjust="spacing" xml:space="preserve">BANK 1</text>
<rect x="421.5" y="406.5" width="276.6" height="14.7" fill="#fff" stroke="#000" stroke-width="1"/>
<line x1="421" y1="411.3" x2="429.2" y2="411.3" stroke="#000" stroke-width="1"/>
<line x1="421" y1="416.2" x2="429.2" y2="416.2" stroke="#000" stroke-width="1"/>
<rect x="429.2" y="407.4" width="3.6" height="14.3" fill="#000"/>
<path d="M433 409 H441.3 V415.5 H437.5 V418.6 H433" fill="none" stroke="#000" stroke-width="1"/>
<path d="M433.5 415.8 H436 V413.3 H440.5" fill="none" stroke="#000" stroke-width="1"/>
<line x1="690.5" y1="411.3" x2="698.6" y2="411.3" stroke="#000" stroke-width="1"/>
<line x1="690.5" y1="416.2" x2="698.6" y2="416.2" stroke="#000" stroke-width="1"/>
<rect x="687" y="407.4" width="3.6" height="14.3" fill="#000"/>
<path d="M687 409 H678.5 V415.5 H682.3 V418.6 H687" fill="none" stroke="#000" stroke-width="1"/>
<path d="M686.5 415.8 H684 V413.3 H679.5" fill="none" stroke="#000" stroke-width="1"/>
<rect x="443.8" y="407.7" width="230.8" height="12" fill="#000"/>
<rect x="446.3" y="409.6" width="1.1" height="4" fill="#fff"/>
<rect x="448.85" y="409.6" width="1.1" height="4" fill="#fff"/>
<rect x="451.4" y="409.6" width="1.1" height="4" fill="#fff"/>
<rect x="453.95" y="409.6" width="1.1" height="4" fill="#fff"/>
<rect x="459.05" y="409.6" width="1.1" height="4" fill="#fff"/>
<rect x="461.6" y="409.6" width="1.1" height="4" fill="#fff"/>
<rect x="464.15" y="409.6" width="1.1" height="4" fill="#fff"/>
<rect x="466.7" y="409.6" width="1.1" height="4" fill="#fff"/>
<rect x="469.25" y="409.6" width="1.1" height="4" fill="#fff"/>
<rect x="471.8" y="409.6" width="1.1" height="4" fill="#fff"/>
<rect x="474.35" y="409.6" width="1.1" height="4" fill="#fff"/>
<rect x="476.9" y="409.6" width="1.1" height="4" fill="#fff"/>
<rect x="482" y="409.6" width="1.1" height="4" fill="#fff"/>
<rect x="484.55" y="409.6" width="1.1" height="4" fill="#fff"/>
<rect x="487.1" y="409.6" width="1.1" height="4" fill="#fff"/>
<rect x="489.65" y="409.6" width="1.1" height="4" fill="#fff"/>
<rect x="492.2" y="409.6" width="1.1" height="4" fill="#fff"/>
<rect x="494.75" y="409.6" width="1.1" height="4" fill="#fff"/>
<rect x="497.3" y="409.6" width="1.1" height="4" fill="#fff"/>
<rect x="499.85" y="409.6" width="1.1" height="4" fill="#fff"/>
<rect x="504.95" y="409.6" width="1.1" height="4" fill="#fff"/>
<rect x="507.5" y="409.6" width="1.1" height="4" fill="#fff"/>
<rect x="510.05" y="409.6" width="1.1" height="4" fill="#fff"/>
<rect x="512.6" y="409.6" width="1.1" height="4" fill="#fff"/>
<rect x="515.15" y="409.6" width="1.1" height="4" fill="#fff"/>
<rect x="517.7" y="409.6" width="1.1" height="4" fill="#fff"/>
<rect x="520.25" y="409.6" width="1.1" height="4" fill="#fff"/>
<rect x="522.8" y="409.6" width="1.1" height="4" fill="#fff"/>
<rect x="527.9" y="409.6" width="1.1" height="4" fill="#fff"/>
<rect x="530.45" y="409.6" width="1.1" height="4" fill="#fff"/>
<rect x="533" y="409.6" width="1.1" height="4" fill="#fff"/>
<rect x="535.55" y="409.6" width="1.1" height="4" fill="#fff"/>
<rect x="538.1" y="409.6" width="1.1" height="4" fill="#fff"/>
<rect x="540.65" y="409.6" width="1.1" height="4" fill="#fff"/>
<rect x="543.2" y="409.6" width="1.1" height="4" fill="#fff"/>
<rect x="545.75" y="409.6" width="1.1" height="4" fill="#fff"/>
<rect x="550.85" y="409.6" width="1.1" height="4" fill="#fff"/>
<rect x="553.4" y="409.6" width="1.1" height="4" fill="#fff"/>
<rect x="555.95" y="409.6" width="1.1" height="4" fill="#fff"/>
<rect x="558.5" y="409.6" width="1.1" height="4" fill="#fff"/>
<rect x="561.05" y="409.6" width="1.1" height="4" fill="#fff"/>
<rect x="563.6" y="409.6" width="1.1" height="4" fill="#fff"/>
<rect x="566.15" y="409.6" width="1.1" height="4" fill="#fff"/>
<rect x="568.7" y="409.6" width="1.1" height="4" fill="#fff"/>
<rect x="573.8" y="409.6" width="1.1" height="4" fill="#fff"/>
<rect x="576.35" y="409.6" width="1.1" height="4" fill="#fff"/>
<rect x="578.9" y="409.6" width="1.1" height="4" fill="#fff"/>
<rect x="581.45" y="409.6" width="1.1" height="4" fill="#fff"/>
<rect x="584" y="409.6" width="1.1" height="4" fill="#fff"/>
<rect x="586.55" y="409.6" width="1.1" height="4" fill="#fff"/>
<rect x="589.1" y="409.6" width="1.1" height="4" fill="#fff"/>
<rect x="591.65" y="409.6" width="1.1" height="4" fill="#fff"/>
<rect x="596.75" y="409.6" width="1.1" height="4" fill="#fff"/>
<rect x="599.3" y="409.6" width="1.1" height="4" fill="#fff"/>
<rect x="601.85" y="409.6" width="1.1" height="4" fill="#fff"/>
<rect x="604.4" y="409.6" width="1.1" height="4" fill="#fff"/>
<rect x="606.95" y="409.6" width="1.1" height="4" fill="#fff"/>
<rect x="609.5" y="409.6" width="1.1" height="4" fill="#fff"/>
<rect x="612.05" y="409.6" width="1.1" height="4" fill="#fff"/>
<rect x="614.6" y="409.6" width="1.1" height="4" fill="#fff"/>
<rect x="619.7" y="409.6" width="1.1" height="4" fill="#fff"/>
<rect x="622.25" y="409.6" width="1.1" height="4" fill="#fff"/>
<rect x="624.8" y="409.6" width="1.1" height="4" fill="#fff"/>
<rect x="627.35" y="409.6" width="1.1" height="4" fill="#fff"/>
<rect x="629.9" y="409.6" width="1.1" height="4" fill="#fff"/>
<rect x="632.45" y="409.6" width="1.1" height="4" fill="#fff"/>
<rect x="635" y="409.6" width="1.1" height="4" fill="#fff"/>
<rect x="637.55" y="409.6" width="1.1" height="4" fill="#fff"/>
<rect x="642.65" y="409.6" width="1.1" height="4" fill="#fff"/>
<rect x="645.2" y="409.6" width="1.1" height="4" fill="#fff"/>
<rect x="647.75" y="409.6" width="1.1" height="4" fill="#fff"/>
<rect x="650.3" y="409.6" width="1.1" height="4" fill="#fff"/>
<rect x="652.85" y="409.6" width="1.1" height="4" fill="#fff"/>
<rect x="655.4" y="409.6" width="1.1" height="4" fill="#fff"/>
<rect x="657.95" y="409.6" width="1.1" height="4" fill="#fff"/>
<rect x="660.5" y="409.6" width="1.1" height="4" fill="#fff"/>
<rect x="665.6" y="409.6" width="1.1" height="4" fill="#fff"/>
<rect x="668.15" y="409.6" width="1.1" height="4" fill="#fff"/>
<rect x="670.7" y="409.6" width="1.1" height="4" fill="#fff"/>
<rect x="530.8" y="403.7" width="58.5" height="19" rx="3.2" fill="#000" shape-rendering="geometricPrecision"/>
<rect x="532.6" y="405.6" width="54.6" height="14.9" rx="2" fill="#fff" shape-rendering="geometricPrecision"/>
<text transform="translate(536.4 417.6) scale(0.7 1)" font-size="13.7" textLength="66.71" lengthAdjust="spacing" xml:space="preserve">BANK 0</text>
<rect x="421.5" y="437.7" width="276.6" height="14.7" fill="#fff" stroke="#000" stroke-width="1"/>
<line x1="421" y1="442.5" x2="429.2" y2="442.5" stroke="#000" stroke-width="1"/>
<line x1="421" y1="447.4" x2="429.2" y2="447.4" stroke="#000" stroke-width="1"/>
<rect x="429.2" y="438.6" width="3.6" height="14.3" fill="#000"/>
<path d="M433 440.2 H441.3 V446.7 H437.5 V449.8 H433" fill="none" stroke="#000" stroke-width="1"/>
<path d="M433.5 447 H436 V444.5 H440.5" fill="none" stroke="#000" stroke-width="1"/>
<line x1="690.5" y1="442.5" x2="698.6" y2="442.5" stroke="#000" stroke-width="1"/>
<line x1="690.5" y1="447.4" x2="698.6" y2="447.4" stroke="#000" stroke-width="1"/>
<rect x="687" y="438.6" width="3.6" height="14.3" fill="#000"/>
<path d="M687 440.2 H678.5 V446.7 H682.3 V449.8 H687" fill="none" stroke="#000" stroke-width="1"/>
<path d="M686.5 447 H684 V444.5 H679.5" fill="none" stroke="#000" stroke-width="1"/>
<rect x="443.8" y="438.9" width="230.8" height="12" fill="#000"/>
<rect x="446.3" y="440.8" width="1.1" height="4" fill="#fff"/>
<rect x="448.85" y="440.8" width="1.1" height="4" fill="#fff"/>
<rect x="451.4" y="440.8" width="1.1" height="4" fill="#fff"/>
<rect x="453.95" y="440.8" width="1.1" height="4" fill="#fff"/>
<rect x="459.05" y="440.8" width="1.1" height="4" fill="#fff"/>
<rect x="461.6" y="440.8" width="1.1" height="4" fill="#fff"/>
<rect x="464.15" y="440.8" width="1.1" height="4" fill="#fff"/>
<rect x="466.7" y="440.8" width="1.1" height="4" fill="#fff"/>
<rect x="469.25" y="440.8" width="1.1" height="4" fill="#fff"/>
<rect x="471.8" y="440.8" width="1.1" height="4" fill="#fff"/>
<rect x="474.35" y="440.8" width="1.1" height="4" fill="#fff"/>
<rect x="476.9" y="440.8" width="1.1" height="4" fill="#fff"/>
<rect x="482" y="440.8" width="1.1" height="4" fill="#fff"/>
<rect x="484.55" y="440.8" width="1.1" height="4" fill="#fff"/>
<rect x="487.1" y="440.8" width="1.1" height="4" fill="#fff"/>
<rect x="489.65" y="440.8" width="1.1" height="4" fill="#fff"/>
<rect x="492.2" y="440.8" width="1.1" height="4" fill="#fff"/>
<rect x="494.75" y="440.8" width="1.1" height="4" fill="#fff"/>
<rect x="497.3" y="440.8" width="1.1" height="4" fill="#fff"/>
<rect x="499.85" y="440.8" width="1.1" height="4" fill="#fff"/>
<rect x="504.95" y="440.8" width="1.1" height="4" fill="#fff"/>
<rect x="507.5" y="440.8" width="1.1" height="4" fill="#fff"/>
<rect x="510.05" y="440.8" width="1.1" height="4" fill="#fff"/>
<rect x="512.6" y="440.8" width="1.1" height="4" fill="#fff"/>
<rect x="515.15" y="440.8" width="1.1" height="4" fill="#fff"/>
<rect x="517.7" y="440.8" width="1.1" height="4" fill="#fff"/>
<rect x="520.25" y="440.8" width="1.1" height="4" fill="#fff"/>
<rect x="522.8" y="440.8" width="1.1" height="4" fill="#fff"/>
<rect x="527.9" y="440.8" width="1.1" height="4" fill="#fff"/>
<rect x="530.45" y="440.8" width="1.1" height="4" fill="#fff"/>
<rect x="533" y="440.8" width="1.1" height="4" fill="#fff"/>
<rect x="535.55" y="440.8" width="1.1" height="4" fill="#fff"/>
<rect x="538.1" y="440.8" width="1.1" height="4" fill="#fff"/>
<rect x="540.65" y="440.8" width="1.1" height="4" fill="#fff"/>
<rect x="543.2" y="440.8" width="1.1" height="4" fill="#fff"/>
<rect x="545.75" y="440.8" width="1.1" height="4" fill="#fff"/>
<rect x="550.85" y="440.8" width="1.1" height="4" fill="#fff"/>
<rect x="553.4" y="440.8" width="1.1" height="4" fill="#fff"/>
<rect x="555.95" y="440.8" width="1.1" height="4" fill="#fff"/>
<rect x="558.5" y="440.8" width="1.1" height="4" fill="#fff"/>
<rect x="561.05" y="440.8" width="1.1" height="4" fill="#fff"/>
<rect x="563.6" y="440.8" width="1.1" height="4" fill="#fff"/>
<rect x="566.15" y="440.8" width="1.1" height="4" fill="#fff"/>
<rect x="568.7" y="440.8" width="1.1" height="4" fill="#fff"/>
<rect x="573.8" y="440.8" width="1.1" height="4" fill="#fff"/>
<rect x="576.35" y="440.8" width="1.1" height="4" fill="#fff"/>
<rect x="578.9" y="440.8" width="1.1" height="4" fill="#fff"/>
<rect x="581.45" y="440.8" width="1.1" height="4" fill="#fff"/>
<rect x="584" y="440.8" width="1.1" height="4" fill="#fff"/>
<rect x="586.55" y="440.8" width="1.1" height="4" fill="#fff"/>
<rect x="589.1" y="440.8" width="1.1" height="4" fill="#fff"/>
<rect x="591.65" y="440.8" width="1.1" height="4" fill="#fff"/>
<rect x="596.75" y="440.8" width="1.1" height="4" fill="#fff"/>
<rect x="599.3" y="440.8" width="1.1" height="4" fill="#fff"/>
<rect x="601.85" y="440.8" width="1.1" height="4" fill="#fff"/>
<rect x="604.4" y="440.8" width="1.1" height="4" fill="#fff"/>
<rect x="606.95" y="440.8" width="1.1" height="4" fill="#fff"/>
<rect x="609.5" y="440.8" width="1.1" height="4" fill="#fff"/>
<rect x="612.05" y="440.8" width="1.1" height="4" fill="#fff"/>
<rect x="614.6" y="440.8" width="1.1" height="4" fill="#fff"/>
<rect x="619.7" y="440.8" width="1.1" height="4" fill="#fff"/>
<rect x="622.25" y="440.8" width="1.1" height="4" fill="#fff"/>
<rect x="624.8" y="440.8" width="1.1" height="4" fill="#fff"/>
<rect x="627.35" y="440.8" width="1.1" height="4" fill="#fff"/>
<rect x="629.9" y="440.8" width="1.1" height="4" fill="#fff"/>
<rect x="632.45" y="440.8" width="1.1" height="4" fill="#fff"/>
<rect x="635" y="440.8" width="1.1" height="4" fill="#fff"/>
<rect x="637.55" y="440.8" width="1.1" height="4" fill="#fff"/>
<rect x="642.65" y="440.8" width="1.1" height="4" fill="#fff"/>
<rect x="645.2" y="440.8" width="1.1" height="4" fill="#fff"/>
<rect x="647.75" y="440.8" width="1.1" height="4" fill="#fff"/>
<rect x="650.3" y="440.8" width="1.1" height="4" fill="#fff"/>
<rect x="652.85" y="440.8" width="1.1" height="4" fill="#fff"/>
<rect x="655.4" y="440.8" width="1.1" height="4" fill="#fff"/>
<rect x="657.95" y="440.8" width="1.1" height="4" fill="#fff"/>
<rect x="660.5" y="440.8" width="1.1" height="4" fill="#fff"/>
<rect x="665.6" y="440.8" width="1.1" height="4" fill="#fff"/>
<rect x="668.15" y="440.8" width="1.1" height="4" fill="#fff"/>
<rect x="670.7" y="440.8" width="1.1" height="4" fill="#fff"/>
<rect x="530.8" y="434.9" width="58.5" height="19" rx="3.2" fill="#000" shape-rendering="geometricPrecision"/>
<rect x="532.6" y="436.8" width="54.6" height="14.9" rx="2" fill="#fff" shape-rendering="geometricPrecision"/>
<text transform="translate(536.4 448.8) scale(0.7 1)" font-size="13.7" textLength="66.71" lengthAdjust="spacing" xml:space="preserve">BANK 1</text>
<rect x="421.5" y="469.5" width="276.6" height="14.7" fill="#fff" stroke="#000" stroke-width="1"/>
<line x1="421" y1="474.3" x2="429.2" y2="474.3" stroke="#000" stroke-width="1"/>
<line x1="421" y1="479.2" x2="429.2" y2="479.2" stroke="#000" stroke-width="1"/>
<rect x="429.2" y="470.4" width="3.6" height="14.3" fill="#000"/>
<path d="M433 472 H441.3 V478.5 H437.5 V481.6 H433" fill="none" stroke="#000" stroke-width="1"/>
<path d="M433.5 478.8 H436 V476.3 H440.5" fill="none" stroke="#000" stroke-width="1"/>
<line x1="690.5" y1="474.3" x2="698.6" y2="474.3" stroke="#000" stroke-width="1"/>
<line x1="690.5" y1="479.2" x2="698.6" y2="479.2" stroke="#000" stroke-width="1"/>
<rect x="687" y="470.4" width="3.6" height="14.3" fill="#000"/>
<path d="M687 472 H678.5 V478.5 H682.3 V481.6 H687" fill="none" stroke="#000" stroke-width="1"/>
<path d="M686.5 478.8 H684 V476.3 H679.5" fill="none" stroke="#000" stroke-width="1"/>
<rect x="443.8" y="470.7" width="230.8" height="12" fill="#000"/>
<rect x="446.3" y="472.6" width="1.1" height="4" fill="#fff"/>
<rect x="448.85" y="472.6" width="1.1" height="4" fill="#fff"/>
<rect x="451.4" y="472.6" width="1.1" height="4" fill="#fff"/>
<rect x="453.95" y="472.6" width="1.1" height="4" fill="#fff"/>
<rect x="459.05" y="472.6" width="1.1" height="4" fill="#fff"/>
<rect x="461.6" y="472.6" width="1.1" height="4" fill="#fff"/>
<rect x="464.15" y="472.6" width="1.1" height="4" fill="#fff"/>
<rect x="466.7" y="472.6" width="1.1" height="4" fill="#fff"/>
<rect x="469.25" y="472.6" width="1.1" height="4" fill="#fff"/>
<rect x="471.8" y="472.6" width="1.1" height="4" fill="#fff"/>
<rect x="474.35" y="472.6" width="1.1" height="4" fill="#fff"/>
<rect x="476.9" y="472.6" width="1.1" height="4" fill="#fff"/>
<rect x="482" y="472.6" width="1.1" height="4" fill="#fff"/>
<rect x="484.55" y="472.6" width="1.1" height="4" fill="#fff"/>
<rect x="487.1" y="472.6" width="1.1" height="4" fill="#fff"/>
<rect x="489.65" y="472.6" width="1.1" height="4" fill="#fff"/>
<rect x="492.2" y="472.6" width="1.1" height="4" fill="#fff"/>
<rect x="494.75" y="472.6" width="1.1" height="4" fill="#fff"/>
<rect x="497.3" y="472.6" width="1.1" height="4" fill="#fff"/>
<rect x="499.85" y="472.6" width="1.1" height="4" fill="#fff"/>
<rect x="504.95" y="472.6" width="1.1" height="4" fill="#fff"/>
<rect x="507.5" y="472.6" width="1.1" height="4" fill="#fff"/>
<rect x="510.05" y="472.6" width="1.1" height="4" fill="#fff"/>
<rect x="512.6" y="472.6" width="1.1" height="4" fill="#fff"/>
<rect x="515.15" y="472.6" width="1.1" height="4" fill="#fff"/>
<rect x="517.7" y="472.6" width="1.1" height="4" fill="#fff"/>
<rect x="520.25" y="472.6" width="1.1" height="4" fill="#fff"/>
<rect x="522.8" y="472.6" width="1.1" height="4" fill="#fff"/>
<rect x="527.9" y="472.6" width="1.1" height="4" fill="#fff"/>
<rect x="530.45" y="472.6" width="1.1" height="4" fill="#fff"/>
<rect x="533" y="472.6" width="1.1" height="4" fill="#fff"/>
<rect x="535.55" y="472.6" width="1.1" height="4" fill="#fff"/>
<rect x="538.1" y="472.6" width="1.1" height="4" fill="#fff"/>
<rect x="540.65" y="472.6" width="1.1" height="4" fill="#fff"/>
<rect x="543.2" y="472.6" width="1.1" height="4" fill="#fff"/>
<rect x="545.75" y="472.6" width="1.1" height="4" fill="#fff"/>
<rect x="550.85" y="472.6" width="1.1" height="4" fill="#fff"/>
<rect x="553.4" y="472.6" width="1.1" height="4" fill="#fff"/>
<rect x="555.95" y="472.6" width="1.1" height="4" fill="#fff"/>
<rect x="558.5" y="472.6" width="1.1" height="4" fill="#fff"/>
<rect x="561.05" y="472.6" width="1.1" height="4" fill="#fff"/>
<rect x="563.6" y="472.6" width="1.1" height="4" fill="#fff"/>
<rect x="566.15" y="472.6" width="1.1" height="4" fill="#fff"/>
<rect x="568.7" y="472.6" width="1.1" height="4" fill="#fff"/>
<rect x="573.8" y="472.6" width="1.1" height="4" fill="#fff"/>
<rect x="576.35" y="472.6" width="1.1" height="4" fill="#fff"/>
<rect x="578.9" y="472.6" width="1.1" height="4" fill="#fff"/>
<rect x="581.45" y="472.6" width="1.1" height="4" fill="#fff"/>
<rect x="584" y="472.6" width="1.1" height="4" fill="#fff"/>
<rect x="586.55" y="472.6" width="1.1" height="4" fill="#fff"/>
<rect x="589.1" y="472.6" width="1.1" height="4" fill="#fff"/>
<rect x="591.65" y="472.6" width="1.1" height="4" fill="#fff"/>
<rect x="596.75" y="472.6" width="1.1" height="4" fill="#fff"/>
<rect x="599.3" y="472.6" width="1.1" height="4" fill="#fff"/>
<rect x="601.85" y="472.6" width="1.1" height="4" fill="#fff"/>
<rect x="604.4" y="472.6" width="1.1" height="4" fill="#fff"/>
<rect x="606.95" y="472.6" width="1.1" height="4" fill="#fff"/>
<rect x="609.5" y="472.6" width="1.1" height="4" fill="#fff"/>
<rect x="612.05" y="472.6" width="1.1" height="4" fill="#fff"/>
<rect x="614.6" y="472.6" width="1.1" height="4" fill="#fff"/>
<rect x="619.7" y="472.6" width="1.1" height="4" fill="#fff"/>
<rect x="622.25" y="472.6" width="1.1" height="4" fill="#fff"/>
<rect x="624.8" y="472.6" width="1.1" height="4" fill="#fff"/>
<rect x="627.35" y="472.6" width="1.1" height="4" fill="#fff"/>
<rect x="629.9" y="472.6" width="1.1" height="4" fill="#fff"/>
<rect x="632.45" y="472.6" width="1.1" height="4" fill="#fff"/>
<rect x="635" y="472.6" width="1.1" height="4" fill="#fff"/>
<rect x="637.55" y="472.6" width="1.1" height="4" fill="#fff"/>
<rect x="642.65" y="472.6" width="1.1" height="4" fill="#fff"/>
<rect x="645.2" y="472.6" width="1.1" height="4" fill="#fff"/>
<rect x="647.75" y="472.6" width="1.1" height="4" fill="#fff"/>
<rect x="650.3" y="472.6" width="1.1" height="4" fill="#fff"/>
<rect x="652.85" y="472.6" width="1.1" height="4" fill="#fff"/>
<rect x="655.4" y="472.6" width="1.1" height="4" fill="#fff"/>
<rect x="657.95" y="472.6" width="1.1" height="4" fill="#fff"/>
<rect x="660.5" y="472.6" width="1.1" height="4" fill="#fff"/>
<rect x="665.6" y="472.6" width="1.1" height="4" fill="#fff"/>
<rect x="668.15" y="472.6" width="1.1" height="4" fill="#fff"/>
<rect x="670.7" y="472.6" width="1.1" height="4" fill="#fff"/>
<rect x="530.8" y="466.7" width="58.5" height="19" rx="3.2" fill="#000" shape-rendering="geometricPrecision"/>
<rect x="532.6" y="468.6" width="54.6" height="14.9" rx="2" fill="#fff" shape-rendering="geometricPrecision"/>
<text transform="translate(536.4 480.6) scale(0.7 1)" font-size="13.7" textLength="66.71" lengthAdjust="spacing" xml:space="preserve">BANK 0</text>
<rect x="421.5" y="500.7" width="276.6" height="14.7" fill="#fff" stroke="#000" stroke-width="1"/>
<line x1="421" y1="505.5" x2="429.2" y2="505.5" stroke="#000" stroke-width="1"/>
<line x1="421" y1="510.4" x2="429.2" y2="510.4" stroke="#000" stroke-width="1"/>
<rect x="429.2" y="501.6" width="3.6" height="14.3" fill="#000"/>
<path d="M433 503.2 H441.3 V509.7 H437.5 V512.8 H433" fill="none" stroke="#000" stroke-width="1"/>
<path d="M433.5 510 H436 V507.5 H440.5" fill="none" stroke="#000" stroke-width="1"/>
<line x1="690.5" y1="505.5" x2="698.6" y2="505.5" stroke="#000" stroke-width="1"/>
<line x1="690.5" y1="510.4" x2="698.6" y2="510.4" stroke="#000" stroke-width="1"/>
<rect x="687" y="501.6" width="3.6" height="14.3" fill="#000"/>
<path d="M687 503.2 H678.5 V509.7 H682.3 V512.8 H687" fill="none" stroke="#000" stroke-width="1"/>
<path d="M686.5 510 H684 V507.5 H679.5" fill="none" stroke="#000" stroke-width="1"/>
<rect x="443.8" y="501.9" width="230.8" height="12" fill="#000"/>
<rect x="446.3" y="503.8" width="1.1" height="4" fill="#fff"/>
<rect x="448.85" y="503.8" width="1.1" height="4" fill="#fff"/>
<rect x="451.4" y="503.8" width="1.1" height="4" fill="#fff"/>
<rect x="453.95" y="503.8" width="1.1" height="4" fill="#fff"/>
<rect x="459.05" y="503.8" width="1.1" height="4" fill="#fff"/>
<rect x="461.6" y="503.8" width="1.1" height="4" fill="#fff"/>
<rect x="464.15" y="503.8" width="1.1" height="4" fill="#fff"/>
<rect x="466.7" y="503.8" width="1.1" height="4" fill="#fff"/>
<rect x="469.25" y="503.8" width="1.1" height="4" fill="#fff"/>
<rect x="471.8" y="503.8" width="1.1" height="4" fill="#fff"/>
<rect x="474.35" y="503.8" width="1.1" height="4" fill="#fff"/>
<rect x="476.9" y="503.8" width="1.1" height="4" fill="#fff"/>
<rect x="482" y="503.8" width="1.1" height="4" fill="#fff"/>
<rect x="484.55" y="503.8" width="1.1" height="4" fill="#fff"/>
<rect x="487.1" y="503.8" width="1.1" height="4" fill="#fff"/>
<rect x="489.65" y="503.8" width="1.1" height="4" fill="#fff"/>
<rect x="492.2" y="503.8" width="1.1" height="4" fill="#fff"/>
<rect x="494.75" y="503.8" width="1.1" height="4" fill="#fff"/>
<rect x="497.3" y="503.8" width="1.1" height="4" fill="#fff"/>
<rect x="499.85" y="503.8" width="1.1" height="4" fill="#fff"/>
<rect x="504.95" y="503.8" width="1.1" height="4" fill="#fff"/>
<rect x="507.5" y="503.8" width="1.1" height="4" fill="#fff"/>
<rect x="510.05" y="503.8" width="1.1" height="4" fill="#fff"/>
<rect x="512.6" y="503.8" width="1.1" height="4" fill="#fff"/>
<rect x="515.15" y="503.8" width="1.1" height="4" fill="#fff"/>
<rect x="517.7" y="503.8" width="1.1" height="4" fill="#fff"/>
<rect x="520.25" y="503.8" width="1.1" height="4" fill="#fff"/>
<rect x="522.8" y="503.8" width="1.1" height="4" fill="#fff"/>
<rect x="527.9" y="503.8" width="1.1" height="4" fill="#fff"/>
<rect x="530.45" y="503.8" width="1.1" height="4" fill="#fff"/>
<rect x="533" y="503.8" width="1.1" height="4" fill="#fff"/>
<rect x="535.55" y="503.8" width="1.1" height="4" fill="#fff"/>
<rect x="538.1" y="503.8" width="1.1" height="4" fill="#fff"/>
<rect x="540.65" y="503.8" width="1.1" height="4" fill="#fff"/>
<rect x="543.2" y="503.8" width="1.1" height="4" fill="#fff"/>
<rect x="545.75" y="503.8" width="1.1" height="4" fill="#fff"/>
<rect x="550.85" y="503.8" width="1.1" height="4" fill="#fff"/>
<rect x="553.4" y="503.8" width="1.1" height="4" fill="#fff"/>
<rect x="555.95" y="503.8" width="1.1" height="4" fill="#fff"/>
<rect x="558.5" y="503.8" width="1.1" height="4" fill="#fff"/>
<rect x="561.05" y="503.8" width="1.1" height="4" fill="#fff"/>
<rect x="563.6" y="503.8" width="1.1" height="4" fill="#fff"/>
<rect x="566.15" y="503.8" width="1.1" height="4" fill="#fff"/>
<rect x="568.7" y="503.8" width="1.1" height="4" fill="#fff"/>
<rect x="573.8" y="503.8" width="1.1" height="4" fill="#fff"/>
<rect x="576.35" y="503.8" width="1.1" height="4" fill="#fff"/>
<rect x="578.9" y="503.8" width="1.1" height="4" fill="#fff"/>
<rect x="581.45" y="503.8" width="1.1" height="4" fill="#fff"/>
<rect x="584" y="503.8" width="1.1" height="4" fill="#fff"/>
<rect x="586.55" y="503.8" width="1.1" height="4" fill="#fff"/>
<rect x="589.1" y="503.8" width="1.1" height="4" fill="#fff"/>
<rect x="591.65" y="503.8" width="1.1" height="4" fill="#fff"/>
<rect x="596.75" y="503.8" width="1.1" height="4" fill="#fff"/>
<rect x="599.3" y="503.8" width="1.1" height="4" fill="#fff"/>
<rect x="601.85" y="503.8" width="1.1" height="4" fill="#fff"/>
<rect x="604.4" y="503.8" width="1.1" height="4" fill="#fff"/>
<rect x="606.95" y="503.8" width="1.1" height="4" fill="#fff"/>
<rect x="609.5" y="503.8" width="1.1" height="4" fill="#fff"/>
<rect x="612.05" y="503.8" width="1.1" height="4" fill="#fff"/>
<rect x="614.6" y="503.8" width="1.1" height="4" fill="#fff"/>
<rect x="619.7" y="503.8" width="1.1" height="4" fill="#fff"/>
<rect x="622.25" y="503.8" width="1.1" height="4" fill="#fff"/>
<rect x="624.8" y="503.8" width="1.1" height="4" fill="#fff"/>
<rect x="627.35" y="503.8" width="1.1" height="4" fill="#fff"/>
<rect x="629.9" y="503.8" width="1.1" height="4" fill="#fff"/>
<rect x="632.45" y="503.8" width="1.1" height="4" fill="#fff"/>
<rect x="635" y="503.8" width="1.1" height="4" fill="#fff"/>
<rect x="637.55" y="503.8" width="1.1" height="4" fill="#fff"/>
<rect x="642.65" y="503.8" width="1.1" height="4" fill="#fff"/>
<rect x="645.2" y="503.8" width="1.1" height="4" fill="#fff"/>
<rect x="647.75" y="503.8" width="1.1" height="4" fill="#fff"/>
<rect x="650.3" y="503.8" width="1.1" height="4" fill="#fff"/>
<rect x="652.85" y="503.8" width="1.1" height="4" fill="#fff"/>
<rect x="655.4" y="503.8" width="1.1" height="4" fill="#fff"/>
<rect x="657.95" y="503.8" width="1.1" height="4" fill="#fff"/>
<rect x="660.5" y="503.8" width="1.1" height="4" fill="#fff"/>
<rect x="665.6" y="503.8" width="1.1" height="4" fill="#fff"/>
<rect x="668.15" y="503.8" width="1.1" height="4" fill="#fff"/>
<rect x="670.7" y="503.8" width="1.1" height="4" fill="#fff"/>
<rect x="530.8" y="497.9" width="58.5" height="19" rx="3.2" fill="#000" shape-rendering="geometricPrecision"/>
<rect x="532.6" y="499.8" width="54.6" height="14.9" rx="2" fill="#fff" shape-rendering="geometricPrecision"/>
<text transform="translate(536.4 511.8) scale(0.7 1)" font-size="13.7" textLength="66.71" lengthAdjust="spacing" xml:space="preserve">BANK 1</text>
<rect x="703.8" y="406.4" width="22.7" height="110.9" fill="#fff" stroke="#000" stroke-width="1"/>
<rect x="718.8" y="405.9" width="1.1" height="111.9" fill="#000"/>
<rect x="706.7" y="412.7" width="6.8" height="5.5" fill="#fff" stroke="#000" stroke-width="1"/>
<circle cx="722.5" cy="414.5" r="2.2" fill="#000" shape-rendering="geometricPrecision"/>
<rect x="720.2" y="413.8" width="4.6" height="1.8" fill="#000"/>
<rect x="721.8" y="411.6" width="1.2" height="6.2" fill="#000"/>
<rect x="706.7" y="422.12" width="6.8" height="5.5" fill="#fff" stroke="#000" stroke-width="1"/>
<circle cx="722.5" cy="424.5" r="2.2" fill="#000" shape-rendering="geometricPrecision"/>
<rect x="720.2" y="423.22" width="4.6" height="1.8" fill="#000"/>
<rect x="721.8" y="421.02" width="1.2" height="6.2" fill="#000"/>
<rect x="706.7" y="431.54" width="6.8" height="5.5" fill="#fff" stroke="#000" stroke-width="1"/>
<circle cx="722.5" cy="433.5" r="2.2" fill="#000" shape-rendering="geometricPrecision"/>
<rect x="720.2" y="432.64" width="4.6" height="1.8" fill="#000"/>
<rect x="721.8" y="430.44" width="1.2" height="6.2" fill="#000"/>
<rect x="706.7" y="440.96" width="6.8" height="5.5" fill="#fff" stroke="#000" stroke-width="1"/>
<circle cx="722.5" cy="443.5" r="2.2" fill="#000" shape-rendering="geometricPrecision"/>
<rect x="720.2" y="442.06" width="4.6" height="1.8" fill="#000"/>
<rect x="721.8" y="439.86" width="1.2" height="6.2" fill="#000"/>
<rect x="706.7" y="450.38" width="6.8" height="5.5" fill="#fff" stroke="#000" stroke-width="1"/>
<circle cx="722.5" cy="452.5" r="2.2" fill="#000" shape-rendering="geometricPrecision"/>
<rect x="720.2" y="451.48" width="4.6" height="1.8" fill="#000"/>
<rect x="721.8" y="449.28" width="1.2" height="6.2" fill="#000"/>
<rect x="706.7" y="459.8" width="6.8" height="5.5" fill="#fff" stroke="#000" stroke-width="1"/>
<circle cx="722.5" cy="461.5" r="2.2" fill="#000" shape-rendering="geometricPrecision"/>
<rect x="720.2" y="460.9" width="4.6" height="1.8" fill="#000"/>
<rect x="721.8" y="458.7" width="1.2" height="6.2" fill="#000"/>
<rect x="706.7" y="469.22" width="6.8" height="5.5" fill="#fff" stroke="#000" stroke-width="1"/>
<circle cx="722.5" cy="471.5" r="2.2" fill="#000" shape-rendering="geometricPrecision"/>
<rect x="720.2" y="470.32" width="4.6" height="1.8" fill="#000"/>
<rect x="721.8" y="468.12" width="1.2" height="6.2" fill="#000"/>
<rect x="706.7" y="478.64" width="6.8" height="5.5" fill="#fff" stroke="#000" stroke-width="1"/>
<circle cx="722.5" cy="480.5" r="2.2" fill="#000" shape-rendering="geometricPrecision"/>
<rect x="720.2" y="479.74" width="4.6" height="1.8" fill="#000"/>
<rect x="721.8" y="477.54" width="1.2" height="6.2" fill="#000"/>
<rect x="706.7" y="488.06" width="6.8" height="5.5" fill="#fff" stroke="#000" stroke-width="1"/>
<circle cx="722.5" cy="490.5" r="2.2" fill="#000" shape-rendering="geometricPrecision"/>
<rect x="720.2" y="489.16" width="4.6" height="1.8" fill="#000"/>
<rect x="721.8" y="486.96" width="1.2" height="6.2" fill="#000"/>
<rect x="706.7" y="497.48" width="6.8" height="5.5" fill="#fff" stroke="#000" stroke-width="1"/>
<circle cx="722.5" cy="499.5" r="2.2" fill="#000" shape-rendering="geometricPrecision"/>
<rect x="720.2" y="498.58" width="4.6" height="1.8" fill="#000"/>
<rect x="721.8" y="496.38" width="1.2" height="6.2" fill="#000"/>
<rect x="706.7" y="506.9" width="6.8" height="5.5" fill="#fff" stroke="#000" stroke-width="1"/>
<circle cx="722.5" cy="509.5" r="2.2" fill="#000" shape-rendering="geometricPrecision"/>
<rect x="720.2" y="508" width="4.6" height="1.8" fill="#000"/>
<rect x="721.8" y="505.8" width="1.2" height="6.2" fill="#000"/>
<rect x="715.1" y="408.2" width="1.9" height="6.6" fill="#000"/>
<rect x="715.1" y="417.62" width="1.9" height="6.6" fill="#000"/>
<rect x="715.1" y="427.04" width="1.9" height="6.6" fill="#000"/>
<rect x="715.1" y="436.46" width="1.9" height="6.6" fill="#000"/>
<rect x="715.1" y="445.88" width="1.9" height="6.6" fill="#000"/>
<rect x="715.1" y="455.3" width="1.9" height="6.6" fill="#000"/>
<rect x="715.1" y="464.72" width="1.9" height="6.6" fill="#000"/>
<rect x="715.1" y="474.14" width="1.9" height="6.6" fill="#000"/>
<rect x="715.1" y="483.56" width="1.9" height="6.6" fill="#000"/>
<rect x="715.1" y="492.98" width="1.9" height="6.6" fill="#000"/>
<rect x="715.1" y="502.4" width="1.9" height="6.6" fill="#000"/>
<rect x="715.1" y="511.82" width="1.9" height="4.48" fill="#000"/>
<path d="M707.5 406.5 l1.2 1.8 h3.6 l1.2 -1.8" fill="none" stroke="#000" stroke-width="1"/>
<path d="M707.5 517.3 l1.2 -1.8 h3.6 l1.2 1.8" fill="none" stroke="#000" stroke-width="1"/>
<rect x="755.6" y="449.4" width="30.4" height="38.1" fill="#000"/>
<rect x="778.8" y="444.4" width="7.2" height="48.2" fill="#000"/>
<rect x="748.9" y="459.2" width="6.7" height="8.6" fill="#fff" stroke="#000" stroke-width="1"/>
<rect x="748.9" y="469.6" width="6.7" height="8.8" fill="#fff" stroke="#000" stroke-width="1"/>
<path d="M753 363.6 H774.5 Q777.8 363.6 777.2 367 Q775.6 372 777 377 Q778 381 776.4 385 Q775.2 389 776.8 393 Q778 397 777 400.5 Q776.5 403.6 773.5 403.6 H753.5 Q750.4 403.6 750.6 400.5 Q751.4 396 750.4 392 Q749.6 388 750.8 384 Q751.6 380 750.4 376 Q749.6 371 750.6 367 Q750.8 363.6 753 363.6Z" fill="#fff" stroke="#000" stroke-width="1" shape-rendering="geometricPrecision"/>
<rect x="74" y="27" width="6.9" height="13.6" fill="#000"/>
<rect x="74.8" y="27.9" width="5.3" height="1.3" fill="#fff"/>
<rect x="74.8" y="33.4" width="5.3" height="1.6" fill="#fff"/>
<rect x="74.8" y="38.7" width="5.3" height="1.2" fill="#fff"/>
<rect x="85.8" y="27" width="7.1" height="25.7" fill="#000"/>
<rect x="86.6" y="33.4" width="5.5" height="1.3" fill="#fff"/>
<rect x="86.6" y="38.7" width="5.5" height="1.9" fill="#fff"/>
<rect x="86.6" y="44.3" width="5.5" height="1.8" fill="#fff"/>
<rect x="86.6" y="50.5" width="5.5" height="1.5" fill="#fff"/>
<rect x="86.6" y="27.9" width="5.5" height="6.1" fill="#fff"/>
<rect x="87.6" y="29.2" width="3.5" height="4.2" fill="#000"/>
<rect x="88.6" y="30.2" width="1.5" height="2.2" fill="#fff"/>
<rect x="99.1" y="27" width="6.8" height="30.9" fill="#000"/>
<rect x="99.9" y="33.4" width="5.2" height="1.3" fill="#fff"/>
<rect x="99.9" y="38.7" width="5.2" height="1.9" fill="#fff"/>
<rect x="99.9" y="44.3" width="5.2" height="1.8" fill="#fff"/>
<rect x="99.9" y="50.5" width="5.2" height="1.5" fill="#fff"/>
<rect x="99.9" y="27.9" width="5.2" height="6.1" fill="#fff"/>
<rect x="100.9" y="29.2" width="3.2" height="4.2" fill="#000"/>
<rect x="101.9" y="30.2" width="1.2" height="2.2" fill="#fff"/>
<rect x="118" y="44.9" width="13.9" height="6.8" fill="#000"/>
<rect x="118.9" y="45.9" width="1" height="4.8" fill="#fff"/>
<rect x="123.2" y="45.9" width="1.3" height="4.8" fill="#fff"/>
<rect x="127.9" y="45.9" width="1.3" height="4.8" fill="#fff"/>
<rect x="130.3" y="45.9" width="0.8" height="4.8" fill="#fff"/>
<rect x="118" y="52.95" width="13.9" height="6.8" fill="#000"/>
<rect x="118.9" y="53.95" width="1" height="4.8" fill="#fff"/>
<rect x="123.2" y="53.95" width="1.3" height="4.8" fill="#fff"/>
<rect x="127.9" y="53.95" width="1.3" height="4.8" fill="#fff"/>
<rect x="130.3" y="53.95" width="0.8" height="4.8" fill="#fff"/>
<rect x="118" y="61" width="13.9" height="6.8" fill="#000"/>
<rect x="118.9" y="62" width="1" height="4.8" fill="#fff"/>
<rect x="123.2" y="62" width="1.3" height="4.8" fill="#fff"/>
<rect x="127.9" y="62" width="1.3" height="4.8" fill="#fff"/>
<rect x="130.3" y="62" width="0.8" height="4.8" fill="#fff"/>
<rect x="118" y="69.05" width="13.9" height="6.8" fill="#000"/>
<rect x="118.9" y="70.05" width="1" height="4.8" fill="#fff"/>
<rect x="123.2" y="70.05" width="1.3" height="4.8" fill="#fff"/>
<rect x="127.9" y="70.05" width="1.3" height="4.8" fill="#fff"/>
<rect x="130.3" y="70.05" width="0.8" height="4.8" fill="#fff"/>
<rect x="118" y="77.1" width="13.9" height="6.8" fill="#000"/>
<rect x="118.9" y="78.1" width="1" height="4.8" fill="#fff"/>
<rect x="123.2" y="78.1" width="1.3" height="4.8" fill="#fff"/>
<rect x="127.9" y="78.1" width="1.3" height="4.8" fill="#fff"/>
<rect x="130.3" y="78.1" width="0.8" height="4.8" fill="#fff"/>
<rect x="342.3" y="172" width="19.7" height="6.2" fill="#000"/>
<rect x="346.73" y="173.2" width="1" height="3.8" fill="#fff"/>
<rect x="351.65" y="173.2" width="1" height="3.8" fill="#fff"/>
<rect x="356.57" y="173.2" width="1" height="3.8" fill="#fff"/>
<rect x="343.9" y="173.8" width="1.72" height="2.6" fill="#fff"/>
<rect x="342.3" y="235.4" width="18.5" height="6.2" fill="#000"/>
<rect x="347.97" y="236.6" width="1" height="3.8" fill="#fff"/>
<rect x="354.13" y="236.6" width="1" height="3.8" fill="#fff"/>
<rect x="343.9" y="237.2" width="2.97" height="2.6" fill="#fff"/>
<rect x="321.5" y="196.7" width="5.9" height="19.1" fill="#000"/>
<rect x="322.7" y="200.97" width="3.5" height="1" fill="#fff"/>
<rect x="322.7" y="205.75" width="3.5" height="1" fill="#fff"/>
<rect x="322.7" y="210.53" width="3.5" height="1" fill="#fff"/>
<rect x="323.3" y="198.3" width="2.3" height="1.58" fill="#fff"/>
<rect x="372" y="239" width="7" height="13.5" fill="#000"/>
<rect x="373.2" y="243" width="4.6" height="1" fill="#fff"/>
<rect x="373.2" y="247.5" width="4.6" height="1" fill="#fff"/>
<rect x="381.6" y="239" width="7" height="13.5" fill="#000"/>
<rect x="382.8" y="243" width="4.6" height="1" fill="#fff"/>
<rect x="382.8" y="247.5" width="4.6" height="1" fill="#fff"/>
<rect x="716.4" y="135.2" width="13.3" height="6.4" fill="#000"/>
<rect x="717.4" y="136.2" width="11.3" height="4.4" fill="#fff"/>
<rect x="718.4" y="136.2" width="4" height="4.4" fill="#000"/>
<rect x="723.8" y="136.2" width="4" height="4.4" fill="#000"/>
<rect x="761" y="206" width="20" height="6.5" fill="#000"/>
<rect x="765.5" y="207.2" width="1" height="4.1" fill="#fff"/>
<rect x="770.5" y="207.2" width="1" height="4.1" fill="#fff"/>
<rect x="775.5" y="207.2" width="1" height="4.1" fill="#fff"/>
<rect x="777.6" y="207.8" width="1.8" height="2.9" fill="#fff"/>
<rect x="717.3" y="311.5" width="6.3" height="24.7" fill="#fff" stroke="#000" stroke-width="1"/>
<rect x="718.6" y="313.6" width="3.8" height="3.6" fill="#000"/>
<rect x="718.6" y="319.1" width="3.8" height="3.6" fill="#000"/>
<rect x="718.6" y="324.6" width="3.8" height="3.6" fill="#000"/>
<rect x="719" y="330.3" width="2.9" height="3.5" fill="#fff" stroke="#000" stroke-width="0.8"/>
<rect x="291.8" y="340.7" width="7.1" height="14.1" fill="#000"/>
<rect x="295.4" y="341.8" width="2.5" height="5.1" fill="#fff"/>
<rect x="295.4" y="348.2" width="2.5" height="5.5" fill="#fff"/>
<rect x="296.7" y="342.8" width="1.2" height="3.2" fill="#000"/>
<rect x="296.7" y="343.6" width="0.6" height="1.8" fill="#fff"/>
<rect x="302.8" y="340.7" width="7.1" height="14.1" fill="#000"/>
<rect x="304.8" y="341.8" width="3.1" height="5.1" fill="#fff"/>
<rect x="304.8" y="348.2" width="3.1" height="5.5" fill="#fff"/>
<rect x="314.7" y="340.7" width="7.1" height="14.1" fill="#000"/>
<rect x="318.3" y="341.8" width="2.5" height="5.1" fill="#fff"/>
<rect x="318.3" y="348.2" width="2.5" height="5.5" fill="#fff"/>
<rect x="319.6" y="342.8" width="1.2" height="3.2" fill="#000"/>
<rect x="319.6" y="343.6" width="0.6" height="1.8" fill="#fff"/>
<rect x="326.4" y="340.7" width="7.1" height="14.1" fill="#000"/>
<rect x="328.4" y="341.8" width="3.1" height="5.1" fill="#fff"/>
<rect x="328.4" y="348.2" width="3.1" height="5.5" fill="#fff"/>
<rect x="337.8" y="340.7" width="7.1" height="14.1" fill="#000"/>
<rect x="341.4" y="341.8" width="2.5" height="5.1" fill="#fff"/>
<rect x="341.4" y="348.2" width="2.5" height="5.5" fill="#fff"/>
<rect x="342.7" y="342.8" width="1.2" height="3.2" fill="#000"/>
<rect x="342.7" y="343.6" width="0.6" height="1.8" fill="#fff"/>
<rect x="92" y="276" width="19" height="13.7" fill="#000"/>
<rect x="93.1" y="277.1" width="4.8" height="0.95" fill="#fff"/>
<rect x="98.9" y="277.1" width="5.1" height="0.95" fill="#fff"/>
<rect x="105.2" y="277.1" width="5" height="0.95" fill="#fff"/>
<rect x="93.1" y="281.7" width="4.8" height="0.95" fill="#fff"/>
<rect x="98.9" y="281.7" width="5.1" height="0.95" fill="#fff"/>
<rect x="105.2" y="281.7" width="5" height="0.95" fill="#fff"/>
<rect x="93.1" y="288" width="4.8" height="0.95" fill="#fff"/>
<rect x="98.9" y="288" width="5.1" height="0.95" fill="#fff"/>
<rect x="105.2" y="288" width="5" height="0.95" fill="#fff"/>
<rect x="105.2" y="277.1" width="0.9" height="11.8" fill="#fff"/>
<rect x="92" y="292.2" width="19" height="5.6" fill="#000"/>
<rect x="93.1" y="293.2" width="0.8" height="3.6" fill="#fff"/>
<rect x="94.9" y="293.6" width="2.6" height="2.8" fill="#fff"/>
<rect x="95.7" y="294.5" width="1" height="1" fill="#000"/>
<rect x="98.4" y="293.2" width="1.5" height="3.6" fill="#fff"/>
<rect x="104" y="293.2" width="1.1" height="3.6" fill="#fff"/>
<rect x="92" y="300.1" width="19" height="6.7" fill="#000"/>
<rect x="93.1" y="301.1" width="0.8" height="4.7" fill="#fff"/>
<rect x="94.9" y="301.5" width="2.6" height="3.9" fill="#fff"/>
<rect x="95.7" y="302.4" width="1" height="2.1" fill="#000"/>
<rect x="98.4" y="301.1" width="1.5" height="4.7" fill="#fff"/>
<rect x="104" y="301.1" width="1.1" height="4.7" fill="#fff"/>
<g shape-rendering="geometricPrecision">
<polygon points="44.57,29.58 70.9,32.9 45.51,25.18" fill="#000" stroke="#000" stroke-width="1.1" stroke-linejoin="round"/>
<polygon points="44.91,28.02 58.95,30.35 45.18,26.75" fill="#fff"/>
<rect x="24.8" y="21.9" width="23.6" height="15.9" rx="3.1" fill="#000"/>
<rect x="24.6" y="21.7" width="21.8" height="14.1" rx="2.2" fill="#fff" stroke="#000" stroke-width="1.8"/>
<polygon points="45.28,28.2 45.59,26.73 49.47,27.71 49.22,28.89" fill="#fff"/>
</g>
<text transform="translate(27.5 33) scale(0.7 1)" font-size="13.7" textLength="21" lengthAdjust="spacing">S1</text>
<g shape-rendering="geometricPrecision">
<polygon points="61.38,51.15 84.9,41.3 60.01,46.86" fill="#000" stroke="#000" stroke-width="1.1" stroke-linejoin="round"/>
<polygon points="60.89,49.63 73.75,44.85 60.5,48.39" fill="#fff"/>
<rect x="24.8" y="41.7" width="39.3" height="15.5" rx="3.1" fill="#000"/>
<rect x="24.6" y="41.5" width="37.5" height="13.7" rx="2.2" fill="#fff" stroke="#000" stroke-width="1.8"/>
<polygon points="61.3,49.6 60.85,48.17 64.7,47.1 65.07,48.24" fill="#fff"/>
</g>
<text transform="translate(27.5 52.7) scale(0.7 1)" font-size="13.7" textLength="41.71" lengthAdjust="spacing">JP18</text>
<g shape-rendering="geometricPrecision">
<polygon points="71.52,70.93 95.6,55.3 69.37,66.98" fill="#000" stroke="#000" stroke-width="1.1" stroke-linejoin="round"/>
<polygon points="70.75,69.53 83.9,61.65 70.13,68.38" fill="#fff"/>
<rect x="39.7" y="61.5" width="34.2" height="16" rx="3.1" fill="#000"/>
<rect x="39.5" y="61.3" width="32.4" height="14.2" rx="2.2" fill="#fff" stroke="#000" stroke-width="1.8"/>
<polygon points="71.15,69.42 70.44,68.1 74.02,66.33 74.6,67.38" fill="#fff"/>
</g>
<text transform="translate(44.7 72.5) scale(0.7 1)" font-size="13.7" textLength="28" lengthAdjust="spacing">J20</text>
<g shape-rendering="geometricPrecision">
<polygon points="122.15,23 125.4,44.2 128.65,23" fill="#000" stroke="#000" stroke-width="1.1" stroke-linejoin="round"/>
<polygon points="123.75,23 125.4,34.6 127.05,23" fill="#fff"/>
<rect x="104.7" y="9.3" width="42.5" height="17.2" rx="3.1" fill="#000"/>
<rect x="104.5" y="9.1" width="40.7" height="15.4" rx="2.2" fill="#fff" stroke="#000" stroke-width="1.8"/>
<polygon points="123.65,23.4 127.15,23.4 126.8,27.4 124,27.4" fill="#fff"/>
</g>
<text transform="translate(109.6 20.9) scale(0.7 1)" font-size="13.7" textLength="41.71" lengthAdjust="spacing">JP13</text>
<g shape-rendering="geometricPrecision">
<polygon points="151.66,27.99 132.4,55.8 154.81,30.46" fill="#000" stroke="#000" stroke-width="1.1" stroke-linejoin="round"/>
<polygon points="152.88,28.95 142.2,43.3 153.59,29.5" fill="#fff"/>
<rect x="151.3" y="15.3" width="40.7" height="17.5" rx="3.1" fill="#000"/>
<rect x="151.1" y="15.1" width="38.9" height="15.7" rx="2.2" fill="#fff" stroke="#000" stroke-width="1.8"/>
<polygon points="152.59,29.23 153.38,29.85 150.83,32.94 150.2,32.44" fill="#fff"/>
</g>
<text transform="translate(155.5 27.1) scale(0.7 1)" font-size="13.7" textLength="41" lengthAdjust="spacing">JP14</text>
<g shape-rendering="geometricPrecision">
<polygon points="152.79,51.68 134.7,63.9 154.72,55.19" fill="#000" stroke="#000" stroke-width="1.1" stroke-linejoin="round"/>
<polygon points="153.54,53.04 143.35,59.15 153.97,53.83" fill="#fff"/>
<rect x="151.3" y="39.3" width="40.9" height="17.2" rx="3.1" fill="#000"/>
<rect x="151.1" y="39.1" width="39.1" height="15.4" rx="2.2" fill="#fff" stroke="#000" stroke-width="1.8"/>
<polygon points="153.16,53.19 153.64,54.07 150.09,55.91 149.7,55.2" fill="#fff"/>
</g>
<text transform="translate(154.6 50.9) scale(0.7 1)" font-size="13.7" textLength="41.29" lengthAdjust="spacing">JP15</text>
<g shape-rendering="geometricPrecision">
<polygon points="107.64,85.83 116.3,73.3 104.67,83.14" fill="#000" stroke="#000" stroke-width="1.1" stroke-linejoin="round"/>
<polygon points="106.49,84.78 111.9,78.15 105.82,84.18" fill="#fff"/>
<rect x="69.3" y="82" width="40.7" height="17.9" rx="3.1" fill="#000"/>
<rect x="69.1" y="81.8" width="38.9" height="16.1" rx="2.2" fill="#fff" stroke="#000" stroke-width="1.8"/>
<polygon points="106.8,84.52 106.05,83.85 108.82,80.95 109.41,81.49" fill="#fff"/>
</g>
<text transform="translate(74.6 93.6) scale(0.7 1)" font-size="13.7" textLength="41.71" lengthAdjust="spacing">JP16</text>
<g shape-rendering="geometricPrecision">
<polygon points="128.4,105.2 124.9,85.2 121.4,105.2" fill="#000" stroke="#000" stroke-width="1.1" stroke-linejoin="round"/>
<polygon points="126.8,105.2 124.9,94.2 123,105.2" fill="#fff"/>
<rect x="105.3" y="103.2" width="41.5" height="18.7" rx="3.1" fill="#000"/>
<rect x="105.1" y="103" width="39.7" height="16.9" rx="2.2" fill="#fff" stroke="#000" stroke-width="1.8"/>
<polygon points="126.9,104.8 122.9,104.8 123.3,100.8 126.5,100.8" fill="#fff"/>
</g>
<text transform="translate(109.4 115.6) scale(0.7 1)" font-size="13.7" textLength="41.14" lengthAdjust="spacing">JP17</text>
<g shape-rendering="geometricPrecision">
<polygon points="348.3,151.2 351.3,170.7 354.3,151.2" fill="#000" stroke="#000" stroke-width="1.1" stroke-linejoin="round"/>
<polygon points="349.9,151.2 351.3,161.95 352.7,151.2" fill="#fff"/>
<rect x="336.3" y="136.8" width="32.7" height="17.9" rx="3.1" fill="#000"/>
<rect x="336.1" y="136.6" width="30.9" height="16.1" rx="2.2" fill="#fff" stroke="#000" stroke-width="1.8"/>
<polygon points="349.8,151.6 352.8,151.6 352.5,155.6 350.1,155.6" fill="#fff"/>
</g>
<text transform="translate(340.5 149) scale(0.7 1)" font-size="13.7" textLength="30.14" lengthAdjust="spacing">JP5</text>
<g shape-rendering="geometricPrecision">
<polygon points="317.21,170.92 323.8,196 322.15,170.13" fill="#000" stroke="#000" stroke-width="1.1" stroke-linejoin="round"/>
<polygon points="318.79,170.67 321.9,184.25 320.57,170.38" fill="#fff"/>
<rect x="304.3" y="156.1" width="32.4" height="17.9" rx="3.1" fill="#000"/>
<rect x="304.1" y="155.9" width="30.6" height="16.1" rx="2.2" fill="#fff" stroke="#000" stroke-width="1.8"/>
<polygon points="318.76,171.08 320.73,170.76 321.17,174.74 319.59,175" fill="#fff"/>
</g>
<text transform="translate(308.4 168.6) scale(0.7 1)" font-size="13.7" textLength="29.86" lengthAdjust="spacing">JP7</text>
<g shape-rendering="geometricPrecision">
<polygon points="315.01,234 341,238.2 316.11,229.63" fill="#000" stroke="#000" stroke-width="1.1" stroke-linejoin="round"/>
<polygon points="315.4,232.44 329.25,235.25 315.72,231.18" fill="#fff"/>
<rect x="286.6" y="227.6" width="32.9" height="16.1" rx="3.1" fill="#000"/>
<rect x="286.4" y="227.4" width="31.1" height="14.3" rx="2.2" fill="#fff" stroke="#000" stroke-width="1.8"/>
<polygon points="315.77,232.64 316.13,231.18 319.97,232.3 319.68,233.47" fill="#fff"/>
</g>
<text transform="translate(290.6 237.4) scale(0.7 1)" font-size="13.7" textLength="31.86" lengthAdjust="spacing">JP6</text>
<g shape-rendering="geometricPrecision">
<polygon points="387.47,211.5 376.6,236.3 391,213.37" fill="#000" stroke="#000" stroke-width="1.1" stroke-linejoin="round"/>
<polygon points="388.84,212.22 382.45,225.25 389.63,212.64" fill="#fff"/>
<rect x="387.1" y="201.9" width="33.3" height="16.9" rx="3.1" fill="#000"/>
<rect x="386.9" y="201.7" width="31.5" height="15.1" rx="2.2" fill="#fff" stroke="#000" stroke-width="1.8"/>
<polygon points="388.61,212.55 389.49,213.02 387.53,216.51 386.82,216.13" fill="#fff"/>
</g>
<text transform="translate(391.6 213.7) scale(0.7 1)" font-size="13.7" textLength="29.86" lengthAdjust="spacing">JP4</text>
<g shape-rendering="geometricPrecision">
<polygon points="397.82,233.8 389.3,242.6 400.2,237.02" fill="#000" stroke="#000" stroke-width="1.1" stroke-linejoin="round"/>
<polygon points="398.74,235.05 393.35,239.6 399.27,235.77" fill="#fff"/>
<rect x="396.1" y="221.3" width="33.9" height="17.6" rx="3.1" fill="#000"/>
<rect x="395.9" y="221.1" width="32.1" height="15.8" rx="2.2" fill="#fff" stroke="#000" stroke-width="1.8"/>
<polygon points="398.39,235.25 398.98,236.05 395.71,238.35 395.23,237.71" fill="#fff"/>
</g>
<text transform="translate(399.5 232.7) scale(0.7 1)" font-size="13.7" textLength="30.71" lengthAdjust="spacing">JP3</text>
<g shape-rendering="geometricPrecision">
<polygon points="689.58,143.94 715.5,137.5 688.87,139.5" fill="#000" stroke="#000" stroke-width="1.1" stroke-linejoin="round"/>
<polygon points="689.33,142.36 703.35,139.45 689.12,141.08" fill="#fff"/>
<rect x="658.6" y="134" width="34.8" height="16.5" rx="3.1" fill="#000"/>
<rect x="658.4" y="133.8" width="33" height="14.7" rx="2.2" fill="#fff" stroke="#000" stroke-width="1.8"/>
<polygon points="689.74,142.39 689.5,140.91 693.47,140.43 693.66,141.61" fill="#fff"/>
</g>
<text transform="translate(663.3 145.8) scale(0.7 1)" font-size="13.7" textLength="33.29" lengthAdjust="spacing">JP2</text>
<g shape-rendering="geometricPrecision">
<polygon points="762.97,226.39 770,215 759.59,223.41" fill="#000" stroke="#000" stroke-width="1.1" stroke-linejoin="round"/>
<polygon points="761.77,225.33 766.3,219.2 760.79,224.47" fill="#fff"/>
<rect x="730.8" y="221.9" width="35.3" height="17.7" rx="3.1" fill="#000"/>
<rect x="730.6" y="221.7" width="33.5" height="15.9" rx="2.2" fill="#fff" stroke="#000" stroke-width="1.8"/>
<polygon points="762.11,225.1 760.98,224.1 763.74,221.2 764.64,222" fill="#fff"/>
</g>
<text transform="translate(736.5 234.4) scale(0.7 1)" font-size="13.7" textLength="31.43" lengthAdjust="spacing">JP1</text>
<g shape-rendering="geometricPrecision">
<polygon points="743.15,320.86 724.8,323.7 743.25,325.86" fill="#000" stroke="#000" stroke-width="1.1" stroke-linejoin="round"/>
<polygon points="743.18,322.46 733,323.55 743.22,324.26" fill="#fff"/>
<rect x="740.7" y="315.1" width="25.7" height="17.5" rx="3.1" fill="#000"/>
<rect x="740.5" y="314.9" width="23.9" height="15.7" rx="2.2" fill="#fff" stroke="#000" stroke-width="1.8"/>
<polygon points="742.78,322.37 742.82,324.37 738.82,324.24 738.79,322.64" fill="#fff"/>
</g>
<text transform="translate(744.7 327.9) scale(0.7 1)" font-size="13.7" textLength="18.43" lengthAdjust="spacing">J9</text>
<g shape-rendering="geometricPrecision">
<polygon points="97.9,252 100.9,273 103.9,252" fill="#000" stroke="#000" stroke-width="1.1" stroke-linejoin="round"/>
<polygon points="99.5,252 100.9,263.5 102.3,252" fill="#fff"/>
<rect x="80.5" y="238.4" width="42.2" height="16.9" rx="3.1" fill="#000"/>
<rect x="80.3" y="238.2" width="40.4" height="15.1" rx="2.2" fill="#fff" stroke="#000" stroke-width="1.8"/>
<polygon points="99.4,252.4 102.4,252.4 102.1,256.4 99.7,256.4" fill="#fff"/>
</g>
<text transform="translate(85.4 250) scale(0.7 1)" font-size="13.7" textLength="41.86" lengthAdjust="spacing">JP20</text>
<g shape-rendering="geometricPrecision">
<polygon points="77.77,272.55 89.5,281.8 80.65,269.77" fill="#000" stroke="#000" stroke-width="1.1" stroke-linejoin="round"/>
<polygon points="78.89,271.48 85.05,277.2 79.53,270.85" fill="#fff"/>
<rect x="42.3" y="257.4" width="40.9" height="17.5" rx="3.1" fill="#000"/>
<rect x="42.1" y="257.2" width="39.1" height="15.7" rx="2.2" fill="#fff" stroke="#000" stroke-width="1.8"/>
<polygon points="79.13,271.8 79.85,271.1 82.56,274.05 81.98,274.6" fill="#fff"/>
</g>
<text transform="translate(46.4 269.4) scale(0.7 1)" font-size="13.7" textLength="41" lengthAdjust="spacing">JP21</text>
<g shape-rendering="geometricPrecision">
<polygon points="121.48,268.59 113.2,282.2 124.61,271.08" fill="#000" stroke="#000" stroke-width="1.1" stroke-linejoin="round"/>
<polygon points="122.69,269.56 117.5,276.8 123.4,270.12" fill="#fff"/>
<rect x="120.7" y="257.5" width="39.7" height="16.1" rx="3.1" fill="#000"/>
<rect x="120.5" y="257.3" width="37.9" height="14.3" rx="2.2" fill="#fff" stroke="#000" stroke-width="1.8"/>
<polygon points="122.41,269.84 123.19,270.46 120.62,273.53 119.99,273.03" fill="#fff"/>
</g>
<text transform="translate(125.7 269.8) scale(0.7 1)" font-size="13.7" textLength="41.29" lengthAdjust="spacing">JP19</text>
<g shape-rendering="geometricPrecision">
<polygon points="70.18,297.09 88.8,294.7 70.22,292.09" fill="#000" stroke="#000" stroke-width="1.1" stroke-linejoin="round"/>
<polygon points="70.19,295.49 80.5,294.65 70.21,293.69" fill="#fff"/>
<rect x="33.1" y="287.3" width="41.2" height="17.5" rx="3.1" fill="#000"/>
<rect x="32.9" y="287.1" width="39.4" height="15.7" rx="2.2" fill="#fff" stroke="#000" stroke-width="1.8"/>
<polygon points="70.59,295.59 70.61,293.59 74.6,293.81 74.6,295.41" fill="#fff"/>
</g>
<text transform="translate(38.4 298.4) scale(0.7 1)" font-size="13.7" textLength="41.71" lengthAdjust="spacing">JP22</text>
<g shape-rendering="geometricPrecision">
<polygon points="81.01,319.82 89.7,306.7 77.98,317.21" fill="#000" stroke="#000" stroke-width="1.1" stroke-linejoin="round"/>
<polygon points="79.83,318.81 85.25,311.85 79.15,318.22" fill="#fff"/>
<rect x="42.3" y="316" width="41.1" height="16.8" rx="3.1" fill="#000"/>
<rect x="42.1" y="315.8" width="39.3" height="15" rx="2.2" fill="#fff" stroke="#000" stroke-width="1.8"/>
<polygon points="80.13,318.54 79.38,317.88 82.07,314.92 82.67,315.45" fill="#fff"/>
</g>
<text transform="translate(47.5 327.5) scale(0.7 1)" font-size="13.7" textLength="41.29" lengthAdjust="spacing">JP23</text>
<g shape-rendering="geometricPrecision">
<polygon points="315.5,318.8 318.5,340.2 321.5,318.8" fill="#000" stroke="#000" stroke-width="1.1" stroke-linejoin="round"/>
<polygon points="317.1,318.8 318.5,330.5 319.9,318.8" fill="#fff"/>
<rect x="297.6" y="306.5" width="41.8" height="15.5" rx="3.1" fill="#000"/>
<rect x="297.4" y="306.3" width="40" height="13.7" rx="2.2" fill="#fff" stroke="#000" stroke-width="1.8"/>
<polygon points="317,319.2 320,319.2 319.7,323.2 317.3,323.2" fill="#fff"/>
</g>
<text transform="translate(302.9 317.7) scale(0.7 1)" font-size="13.7" textLength="40.43" lengthAdjust="spacing">JP10</text>
<g shape-rendering="geometricPrecision">
<polygon points="352.46,327.17 342.8,339.2 355.23,330.06" fill="#000" stroke="#000" stroke-width="1.1" stroke-linejoin="round"/>
<polygon points="353.53,328.29 347.6,334.6 354.16,328.94" fill="#fff"/>
<rect x="351.1" y="316" width="32.8" height="16.1" rx="3.1" fill="#000"/>
<rect x="350.9" y="315.8" width="31" height="14.3" rx="2.2" fill="#fff" stroke="#000" stroke-width="1.8"/>
<polygon points="353.21,328.53 353.9,329.25 350.94,331.95 350.39,331.37" fill="#fff"/>
</g>
<text transform="translate(354.8 327.4) scale(0.7 1)" font-size="13.7" textLength="30.86" lengthAdjust="spacing">JP8</text>
<g shape-rendering="geometricPrecision">
<polygon points="282.77,330.28 294.4,340 285.72,327.57" fill="#000" stroke="#000" stroke-width="1.1" stroke-linejoin="round"/>
<polygon points="283.92,329.23 290,335.2 284.58,328.62" fill="#fff"/>
<rect x="247.5" y="315.5" width="40.9" height="17.1" rx="3.1" fill="#000"/>
<rect x="247.3" y="315.3" width="39.1" height="15.3" rx="2.2" fill="#fff" stroke="#000" stroke-width="1.8"/>
<polygon points="284.15,329.56 284.89,328.88 287.52,331.9 286.93,332.44" fill="#fff"/>
</g>
<text transform="translate(250.4 327.6) scale(0.7 1)" font-size="13.7" textLength="41.71" lengthAdjust="spacing">JP12</text>
<g shape-rendering="geometricPrecision">
<polygon points="295.68,370.23 306.6,355.8 292.77,367.48" fill="#000" stroke="#000" stroke-width="1.1" stroke-linejoin="round"/>
<polygon points="294.55,369.16 301.1,361.6 293.9,368.54" fill="#fff"/>
<rect x="261.1" y="366.5" width="37.2" height="15.4" rx="3.1" fill="#000"/>
<rect x="260.9" y="366.3" width="35.4" height="13.6" rx="2.2" fill="#fff" stroke="#000" stroke-width="1.8"/>
<polygon points="294.86,368.91 294.14,368.22 296.96,365.38 297.54,365.93" fill="#fff"/>
</g>
<text transform="translate(264.4 377.8) scale(0.7 1)" font-size="13.7" textLength="40" lengthAdjust="spacing">JP11</text>
<g shape-rendering="geometricPrecision">
<polygon points="342.02,366.2 329.3,357.8 339.4,369.22" fill="#000" stroke="#000" stroke-width="1.1" stroke-linejoin="round"/>
<polygon points="341,367.37 334.25,362.1 340.41,368.05" fill="#fff"/>
<rect x="337.6" y="365.3" width="32.7" height="17.2" rx="3.1" fill="#000"/>
<rect x="337.4" y="365.1" width="30.9" height="15.4" rx="2.2" fill="#fff" stroke="#000" stroke-width="1.8"/>
<polygon points="340.74,367.07 340.08,367.83 337.13,365.13 337.65,364.52" fill="#fff"/>
</g>
<text transform="translate(341.8 377.4) scale(0.7 1)" font-size="13.7" textLength="31.43" lengthAdjust="spacing">JP9</text>
</g>
</svg>
</body>
</html>
